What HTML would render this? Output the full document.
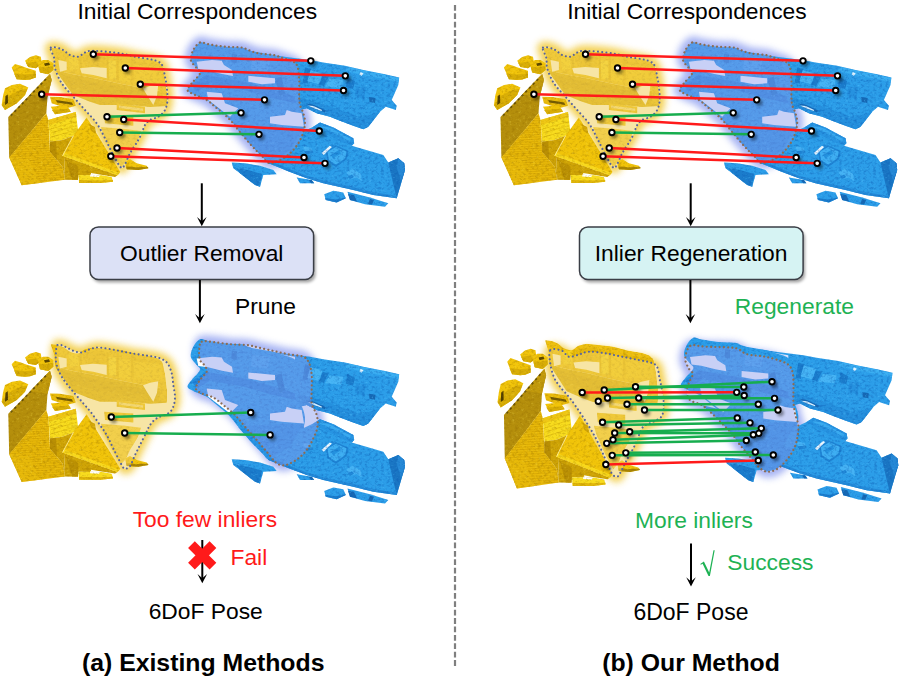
<!DOCTYPE html>
<html><head><meta charset="utf-8"><title>Figure</title>
<style>
html,body{margin:0;padding:0;background:#fff;}
body{width:900px;height:680px;overflow:hidden;font-family:"Liberation Sans",sans-serif;}
svg{display:block;}
</style></head><body>
<svg width="900" height="680" viewBox="0 0 900 680">
<defs>
<filter id="glow" x="-30%" y="-30%" width="160%" height="160%"><feGaussianBlur stdDeviation="3.8"/></filter>
<filter id="sblur" x="-100%" y="-100%" width="300%" height="300%"><feGaussianBlur stdDeviation="1.7"/></filter>
<filter id="bshadow" x="-10%" y="-20%" width="120%" height="150%"><feGaussianBlur stdDeviation="1.6"/></filter>
<filter id="soft" x="-5%" y="-5%" width="110%" height="110%"><feGaussianBlur stdDeviation="0.45"/></filter>
<filter id="texy" x="-3%" y="-3%" width="106%" height="106%" color-interpolation-filters="sRGB">
<feGaussianBlur in="SourceGraphic" stdDeviation="0.45" result="g"/>
<feTurbulence type="fractalNoise" baseFrequency="0.3 0.42" numOctaves="3" seed="7" result="n"/>
<feColorMatrix in="n" type="matrix" values="0 0 0 0 0.55  0 0 0 0 0.4  0 0 0 0 0  0.95 0 0 0 -0.45" result="d"/>
<feColorMatrix in="n" type="matrix" values="0 0 0 0 1  0 0 0 0 0.93  0 0 0 0 0.35  0 -0.95 0 0 0.38" result="l"/>
<feComposite in="d" in2="g" operator="in" result="dd"/>
<feComposite in="l" in2="g" operator="in" result="ll"/>
<feMerge><feMergeNode in="g"/><feMergeNode in="dd"/><feMergeNode in="ll"/></feMerge>
</filter>
<filter id="texb" x="-3%" y="-3%" width="106%" height="106%" color-interpolation-filters="sRGB">
<feGaussianBlur in="SourceGraphic" stdDeviation="0.45" result="g"/>
<feTurbulence type="fractalNoise" baseFrequency="0.32 0.4" numOctaves="3" seed="11" result="n"/>
<feColorMatrix in="n" type="matrix" values="0 0 0 0 0.05  0 0 0 0 0.36  0 0 0 0 0.7  1.2 0 0 0 -0.56" result="d"/>
<feColorMatrix in="n" type="matrix" values="0 0 0 0 0.36  0 0 0 0 0.78  0 0 0 0 1  0 -1.2 0 0 0.47" result="l"/>
<feComposite in="d" in2="g" operator="in" result="dd"/>
<feComposite in="l" in2="g" operator="in" result="ll"/>
<feMerge><feMergeNode in="g"/><feMergeNode in="dd"/><feMergeNode in="ll"/></feMerge>
</filter>
<clipPath id="stripeclip"><polygon points="46.3,113.3 9.2,157.5 21.7,185.3 65,179.7 62.5,166.7 50,151.7 49.2,133.3 48.3,120"/></clipPath>

<clipPath id="yclip0"><path d="M50.8,47.5C52.0,46.0 58.5,48.0 61.7,49.2C64.9,50.5 67.2,53.8 70.0,55.0C72.8,56.2 75.8,57.1 78.3,56.7C80.8,56.3 82.5,53.5 85.0,52.5C87.5,51.5 87.5,50.7 93.3,50.8C99.1,50.9 113.0,52.3 120.0,53.3C127.0,54.3 130.0,55.7 135.0,56.7C140.0,57.7 146.1,58.4 150.0,59.2C153.9,60.0 156.2,60.6 158.3,61.7C160.4,62.8 161.4,63.3 162.5,65.8C163.6,68.3 164.3,73.2 165.0,76.7C165.7,80.2 166.3,82.8 166.7,86.7C167.1,90.6 167.8,96.1 167.5,100.0C167.2,103.9 166.5,107.2 165.0,110.0C163.5,112.8 160.8,115.0 158.3,116.7C155.8,118.4 152.2,118.6 150.0,120.0C147.8,121.4 146.4,122.8 145.0,125.0C143.6,127.2 142.8,130.8 141.7,133.3C140.6,135.8 140.2,136.7 138.3,140.0C136.4,143.3 132.2,149.3 130.0,153.3C127.8,157.3 126.5,161.8 125.0,164.2C123.5,166.6 123.0,169.0 121.0,167.5C119.0,166.0 116.0,159.9 113.3,155.0C110.6,150.1 107.8,143.6 105.0,138.3C102.2,133.0 100.0,128.0 96.7,123.3C93.4,118.6 88.9,114.4 85.0,110.0C81.1,105.6 77.2,101.2 73.3,96.7C69.4,92.2 64.8,88.0 61.7,83.3C58.7,78.6 56.2,72.5 55.0,68.3C53.8,64.1 54.9,61.8 54.2,58.3C53.5,54.8 49.5,49.0 50.8,47.5Z"/></clipPath>
<g id="ycloud"><g filter="url(#texy)"><polygon points="25.0,60.8 30.0,57.0 35.8,55.3 40.8,56.7 41.7,62.5 39.0,66.0 35.8,68.3 28.3,67.0" fill="#f1c40a" />
<polygon points="26.0,63.0 33.0,62.0 41.5,61.5 41.7,62.5 39.0,66.0 35.8,68.3 28.3,67.0" fill="#d9ae06" />
<polygon points="37.5,62.5 43.0,60.0 48.3,60.0 53.3,63.3 53.3,70.0 48.3,74.2 40.0,72.5" fill="#f1c40a" />
<polygon points="38.5,67.0 46.0,67.5 53.3,66.0 53.3,70.0 48.3,74.2 40.0,72.5" fill="#d9ae06" />
<polygon points="44.0,63.5 49.0,62.5 50.0,65.0 45.0,66.0" fill="#5a4600" />
<polygon points="11.7,67.5 15.0,64.0 20.8,65.8 27.0,68.0 35.8,70.8 35.8,77.5 30.0,79.5 25.0,80.0 16.7,79.2" fill="#f1c40a" />
<polygon points="14.0,73.5 24.0,74.5 35.8,73.5 35.8,77.5 30.0,79.5 25.0,80.0 16.7,79.2" fill="#d9ae06" />
<polygon points="5.0,88.3 12.0,85.0 20.0,83.7 28.3,87.5 25.0,95.0 16.7,103.3 5.0,110.0 1.7,105.0 3.0,96.0" fill="#f1c40a" />
<polygon points="9.0,96.0 20.0,90.0 27.0,89.0 25.0,95.0 16.7,103.3 5.0,110.0 1.7,105.0" fill="#d9ae06" />
<polygon points="5.5,96.0 7.8,94.5 8.0,103.0 5.0,105.0" fill="#4e3c00" />
<polygon points="50.0,74.0 8.3,117.0 9.2,158.0 46.3,113.3 47.5,97.0 51.7,80.0" fill="#b58f0c" />
<polygon points="50.0,74.0 30.0,94.5 47.5,97.0 51.7,80.0" fill="#c29a0c" />
<path d="M46,79 L10,116.5" stroke="#2e2400" stroke-width="1.7" stroke-dasharray="2.4 3" fill="none" opacity="0.6"/>
<polygon points="46.3,113.3 9.2,157.5 21.7,185.3 65.0,179.7 62.5,166.7 50.0,151.7 49.2,133.3 48.3,120.0" fill="#e9ba0a" />
<g clip-path="url(#stripeclip)" stroke="#c99b00" stroke-width="0.8" opacity="0.55"><line x1="5" y1="118.0" x2="70" y2="115.0"/><line x1="5" y1="120.3" x2="70" y2="117.3"/><line x1="5" y1="122.6" x2="70" y2="119.6"/><line x1="5" y1="124.9" x2="70" y2="121.9"/><line x1="5" y1="127.2" x2="70" y2="124.2"/><line x1="5" y1="129.5" x2="70" y2="126.5"/><line x1="5" y1="131.8" x2="70" y2="128.8"/><line x1="5" y1="134.1" x2="70" y2="131.1"/><line x1="5" y1="136.4" x2="70" y2="133.4"/><line x1="5" y1="138.7" x2="70" y2="135.7"/><line x1="5" y1="141.0" x2="70" y2="138.0"/><line x1="5" y1="143.3" x2="70" y2="140.3"/><line x1="5" y1="145.6" x2="70" y2="142.6"/><line x1="5" y1="147.9" x2="70" y2="144.9"/><line x1="5" y1="150.2" x2="70" y2="147.2"/><line x1="5" y1="152.5" x2="70" y2="149.5"/><line x1="5" y1="154.8" x2="70" y2="151.8"/><line x1="5" y1="157.1" x2="70" y2="154.1"/><line x1="5" y1="159.4" x2="70" y2="156.4"/><line x1="5" y1="161.7" x2="70" y2="158.7"/><line x1="5" y1="164.0" x2="70" y2="161.0"/><line x1="5" y1="166.3" x2="70" y2="163.3"/><line x1="5" y1="168.6" x2="70" y2="165.6"/><line x1="5" y1="170.9" x2="70" y2="167.9"/><line x1="5" y1="173.2" x2="70" y2="170.2"/><line x1="5" y1="175.5" x2="70" y2="172.5"/><line x1="5" y1="177.8" x2="70" y2="174.8"/><line x1="5" y1="180.1" x2="70" y2="177.1"/><line x1="5" y1="182.39999999999998" x2="70" y2="179.39999999999998"/><line x1="5" y1="184.7" x2="70" y2="181.7"/></g>
<polygon points="9.2,157.5 21.7,185.3 40.0,183.0 30.0,160.0" fill="#e9bc0c" opacity="0.6"/>
<polygon points="48.3,120.0 75.8,112.0 78.3,132.5 73.3,135.8 62.5,140.0 50.0,141.7" fill="#f8dc1e" />
<polygon points="48.3,120.0 75.8,112.0 76.3,117.0 48.7,125.0" fill="#eec614" />
<g stroke="#e2be10" stroke-width="0.9" opacity="0.8"><line x1="50.5" y1="129" x2="76.5" y2="121.5"/><line x1="51" y1="133" x2="77" y2="125.5"/><line x1="51.5" y1="137" x2="77.5" y2="129.5"/></g>
<polygon points="50.0,141.7 62.5,140.0 73.3,135.8 64.2,155.8 65.0,179.7 62.5,166.7 50.0,151.7" fill="#cfa406" />
<polygon points="50.0,141.7 56.0,141.0 57.0,160.0 50.0,151.7" fill="#b98f04" />
<polygon points="62.5,155.8 117.5,175.3 115.0,176.9 100.0,174.6 91.0,173.0 91.0,175.2 78.3,175.0 78.0,180.0 65.0,179.7 64.2,158.3" fill="#cfa406" />
<polygon points="66.0,160.0 78.3,166.7 78.0,179.7 72.0,179.7" fill="#ba9004" />
<polygon points="86.7,117.5 120.3,172.0 117.5,175.3 62.5,155.8 73.3,135.8" fill="#f1c40a" />
<polygon points="62.5,155.8 117.5,175.3 119.5,173.0 64.0,152.8" fill="#f8d81c" />
<polygon points="89.0,124.0 95.0,127.0 96.0,134.0 91.0,131.0" fill="#d4a808" />
<line x1="73.3" y1="135.8" x2="62.5" y2="155.8" stroke="#fff3b0" stroke-width="0.8"/>
<polygon points="78.3,175.0 101.7,175.3 111.7,177.0 113.0,181.7 100.0,183.0 79.2,183.0" fill="#f8dc1e" />
<polygon points="79.0,180.0 100.0,180.5 113.0,180.0 113.0,181.7 100.0,183.0 79.2,183.0" fill="#e0b60a" />
<polygon points="90.0,174.5 100.0,175.5 99.0,177.0 90.0,176.5" fill="#fff" />
<polygon points="125.0,161.7 130.0,159.2 136.7,163.3 146.7,165.8 148.3,168.3 138.3,170.0 126.7,169.2" fill="#f1c40a" />
<polygon points="126.0,166.5 138.0,167.3 148.0,167.0 148.3,168.3 138.3,170.0 126.7,169.2" fill="#a88404" />
<polygon points="50.0,96.7 60.0,97.0 73.3,99.2 75.8,105.8 66.7,108.3 51.7,103.3" fill="#e9ba0a" />
<polygon points="56.0,100.0 72.0,102.5 73.0,105.0 57.0,102.5" fill="#3e3000" opacity="0.7"/>
<polygon points="50.8,106.7 66.7,105.3 70.8,111.7 55.0,114.2" fill="#f1c40a" />
<polygon points="52.0,110.0 69.0,108.8 70.8,111.7 55.0,114.2" fill="#d9ae06" /><g clip-path="url(#yclip0)"><polygon points="55.0,70.0 71.7,74.0 93.3,78.0 116.7,83.0 136.7,87.0 167.0,92.0 167.0,106.0 150.0,107.0 130.0,105.0 113.3,105.0 100.0,105.0 90.0,101.7 73.0,95.0" fill="#d9ad08" />
<polygon points="50.8,47.5 57.5,48.3 71.7,53.3 78.3,55.8 85.0,52.5 93.3,50.8 120.0,53.3 135.0,56.7 150.0,59.2 158.3,61.7 162.5,65.8 165.0,76.7 166.5,92.0 136.7,87.0 116.7,83.0 93.3,78.0 71.7,74.0 55.0,70.0 54.2,58.3" fill="#eec010" />
<polygon points="79.5,56.0 81.7,56.0 82.1,80.0 79.9,80.0" fill="#d4a800" opacity="0.55"/>
<polygon points="106.5,56.0 108.7,56.0 109.1,80.0 106.9,80.0" fill="#d4a800" opacity="0.55"/>
<polygon points="116.5,56.0 118.7,56.0 119.1,80.0 116.9,80.0" fill="#d4a800" opacity="0.55"/>
<polygon points="131.0,56.0 133.2,56.0 133.6,80.0 131.4,80.0" fill="#d4a800" opacity="0.55"/>
<polygon points="83.0,57.0 105.0,55.5 105.5,60.0 83.5,61.5" fill="#d4a800" opacity="0.5"/>
<polygon points="134.0,62.0 162.0,64.0 162.5,68.0 134.0,66.0" fill="#d4a800" opacity="0.35"/>
<polygon points="160.0,84.0 166.0,85.0 166.5,104.0 159.0,104.0" fill="#e8bc10" />
<polygon points="68.3,56.6 78.0,57.5 79.0,69.0 70.0,70.0" fill="#f6d21a" />
<polygon points="108.5,60.5 116.0,61.0 116.0,79.5 109.0,78.5" fill="#f8d820" />
<polygon points="118.5,62.0 130.5,63.3 130.5,82.5 119.0,81.0" fill="#f4cc14" />
<polygon points="133.5,64.5 161.0,67.0 162.5,82.0 134.0,82.5" fill="#f2c812" />
<polygon points="84.0,55.5 104.0,54.0 105.0,66.5 85.0,67.5" fill="#e6b80c" />
<polygon points="62.0,76.0 93.3,82.0 116.7,87.0 136.7,91.0 160.0,95.0 160.0,101.0 136.0,98.5 113.0,96.0 90.0,92.0 70.0,86.0" fill="#cfa306" opacity="0.7"/>
<polygon points="116.7,103.3 145.0,106.7 145.0,113.3 116.7,110.0" fill="#eec010" />
<polygon points="119.0,105.5 143.0,108.5 143.0,111.0 119.0,108.0" fill="#fff" opacity="0.55"/>
<polygon points="104.2,115.0 133.3,116.7 133.3,125.8 105.0,123.3" fill="#eec010" />
<polygon points="101.0,127.0 125.0,129.0 141.0,131.0 138.0,140.0 128.0,160.0 121.0,167.5 112.0,153.0 105.0,140.0" fill="#f3cf38" /></g></g><g clip-path="url(#yclip0)" filter="url(#soft)"><polygon points="58.3,60.0 66.7,61.7 66.7,70.0 60.0,71.7" fill="#fff" />
<polygon points="80.0,68.3 93.0,67.0 106.7,68.0 106.7,78.3 93.3,75.0 81.7,73.3" fill="#fff" />
<polygon points="143.0,88.5 150.0,86.0 158.3,84.5 157.0,96.0 153.3,105.0 147.5,96.0" fill="#fff" /></g></g>
<g id="bcloud"><g filter="url(#texb)"><path d="M200.0,42.5C202.5,41.5 204.1,43.5 208.3,44.2C212.5,44.9 219.4,46.2 225.0,46.7C230.6,47.2 237.8,47.0 241.7,47.5C245.6,48.0 245.5,49.0 248.3,50.0C251.1,51.0 254.1,52.5 258.3,53.3C262.5,54.1 269.1,54.2 273.3,55.0C277.5,55.8 280.0,57.2 283.3,58.3C286.6,59.4 290.9,60.3 293.3,61.7C295.7,63.1 296.5,63.7 297.5,66.7C298.5,69.8 298.9,75.0 299.2,80.0C299.5,85.0 299.1,92.5 299.2,96.7C299.3,100.9 299.3,102.2 300.0,105.0C300.7,107.8 302.5,110.5 303.3,113.3C304.1,116.1 305.0,118.9 305.0,122.0C305.0,125.1 304.4,128.4 303.3,132.0C302.2,135.6 300.5,139.8 298.3,143.3C296.1,146.9 293.1,150.5 290.0,153.3C286.9,156.1 283.5,158.4 280.0,160.0C276.5,161.6 272.1,163.7 269.0,163.0C265.9,162.3 264.6,158.7 261.7,155.8C258.8,152.9 255.6,150.1 251.7,145.8C247.8,141.5 241.6,134.0 238.3,130.0C235.0,126.0 233.9,124.2 231.7,121.7C229.5,119.2 227.8,117.5 225.0,115.0C222.2,112.5 218.1,109.2 215.0,106.7C211.9,104.2 210.3,102.1 206.7,100.0C203.1,97.9 196.5,95.9 193.3,94.2C190.1,92.5 187.8,91.8 187.5,90.0C187.2,88.2 189.6,86.1 191.7,83.3C193.8,80.5 199.2,75.8 200.0,73.3C200.8,70.8 198.2,70.5 196.7,68.3C195.2,66.1 191.4,63.0 190.8,60.0C190.2,57.0 191.8,52.9 193.3,50.0C194.8,47.1 197.5,43.5 200.0,42.5Z" fill="#2c9ee9"/>
<polygon points="192.0,84.0 206.0,75.0 245.0,82.0 275.0,90.0 299.0,98.0 299.0,104.0 272.0,98.0 244.0,90.0 210.0,84.0 196.0,92.0" fill="#2388dc" />
<polygon points="231.7,54.0 236.7,54.5 236.7,63.3 231.7,62.5" fill="#1b7ccc" />
<polygon points="275.0,78.3 281.7,76.7 285.0,93.3 280.0,96.7" fill="#1b7ccc" />
<polygon points="252.0,58.0 270.0,60.0 268.0,72.0 251.0,70.0" fill="#3aa8f0" />
<polygon points="238.0,130.0 262.0,128.0 304.0,127.0 304.0,135.0 298.3,143.3 290.0,153.3 280.0,160.0 269.0,163.5 251.7,145.8" fill="#2893e3" /></g><g filter="url(#soft)"><polygon points="196.7,61.7 212.0,60.0 221.7,60.8 224.0,65.0 232.0,70.0 233.0,76.0 222.0,74.0 208.0,70.5 198.3,69.2" fill="#fff" />
<polygon points="248.3,75.8 275.0,78.3 275.0,83.3 261.7,84.2 248.3,81.7" fill="#fff" />
<polygon points="206.7,91.7 221.7,93.3 225.0,103.3 238.3,108.3 230.0,116.7 208.3,100.0" fill="#fff" />
<polygon points="270.0,116.7 285.0,115.0 286.7,110.0 291.7,111.7 301.7,113.3 304.0,126.7 281.7,125.0 270.0,123.3" fill="#fff" /></g><g filter="url(#texb)"><polygon points="197.0,44.0 225.0,47.0 250.0,51.0 275.0,55.5 290.0,57.5 310.0,60.0 323.3,62.5 345.0,65.8 363.3,70.0 385.0,74.2 399.2,77.5 398.3,85.0 391.7,100.0 396.7,105.8 395.8,110.0 385.8,106.7 380.0,111.7 368.3,126.7 363.3,129.2 353.3,125.8 340.0,120.8 330.0,116.7 316.7,113.3 306.7,108.3 300.0,110.0 295.0,100.0 295.0,60.0" fill="#2c9ee9" />
<polygon points="298.0,97.0 316.0,102.0 340.0,110.0 362.0,117.5 380.0,111.7 368.3,126.7 363.3,129.2 353.3,125.8 340.0,120.8 330.0,116.7 316.7,113.3 306.7,108.3 300.0,110.0" fill="#2590de" />
<polygon points="305.0,67.5 311.3,68.8 307.5,83.8 302.5,82.5" fill="#1b7ccc" />
<polygon points="322.5,75.0 328.8,76.9 323.8,86.0 319.0,84.5" fill="#1b7ccc" />
<polygon points="310.5,70.0 322.5,73.8 319.0,84.0 307.3,81.3" fill="#46b4f5" />
<polygon points="329.5,78.8 343.5,80.0 341.3,88.0 325.0,86.6" fill="#46b4f5" />
<polygon points="347.0,77.0 355.0,81.0 353.0,89.0 346.0,87.0" fill="#1b7ccc" />
<polygon points="346.0,66.5 364.0,70.5 385.0,74.8 399.0,78.0 398.6,82.0 384.0,79.0 363.0,75.0 346.0,71.0" fill="#3aaef2" />
<polygon points="369.0,97.0 375.5,98.0 375.0,103.0 369.5,102.0" fill="#1668b4" />
<polygon points="356.0,86.0 366.0,88.0 364.0,99.0 355.0,96.0" fill="#2692e0" />
<polygon points="306.0,103.5 313.0,104.5 326.0,110.5 325.0,112.5 312.0,108.0" fill="#1668b4" />
<polygon points="308.0,105.5 313.5,106.0 322.0,110.0 321.5,111.0 312.5,107.7" fill="#d8f0ff" />
<polygon points="360.5,72.0 363.5,73.5 361.5,76.0 359.5,74.5" fill="#e4f4ff" />
<polygon points="300.0,133.0 313.3,126.7 320.0,122.5 333.3,127.5 353.3,138.3 354.2,143.3 351.7,145.8 383.3,155.0 388.3,162.5 398.3,158.3 404.2,163.3 405.0,170.0 396.7,198.3 373.3,195.0 353.3,190.0 323.3,183.3 306.7,178.3 290.0,172.0 268.0,163.0 290.0,150.0" fill="#2c9ee9" />
<polygon points="313.3,126.7 320.0,122.5 333.3,127.5 353.3,138.3 354.2,143.3 351.7,145.8 340.0,141.0 324.0,133.0" fill="#2794e2" />
<polygon points="321.0,124.5 333.0,129.0 351.0,139.0 350.0,141.5 332.0,132.0 320.0,127.0" fill="#39aaf0" />
<polygon points="388.3,162.5 398.3,158.3 404.2,163.3 405.0,170.0 396.7,198.3 393.0,183.0" fill="#1a76c4" />
<polygon points="398.3,158.3 404.2,163.3 405.0,170.0 401.0,181.0 397.0,168.0" fill="#2588d6" />
<polygon points="268.0,163.0 290.0,172.0 306.7,178.3 323.3,183.3 353.3,190.0 373.3,195.0 396.7,198.3 397.3,196.0 374.0,192.3 354.0,187.3 324.0,180.8 307.0,175.8 291.0,169.5 270.0,161.0" fill="#2389d8" />
<polygon points="325.5,151.5 336.0,145.3 348.6,151.0 346.6,159.6 336.0,167.0 327.4,161.6" fill="#1f84d4" />
<polygon points="327.5,152.0 336.0,147.0 346.5,151.6 345.0,158.5 336.0,164.6 329.0,160.5" fill="#3eaef2" />
<polygon points="331.0,155.0 339.0,150.0 341.0,153.5 333.0,158.5" fill="#2390de" />
<polygon points="321.6,153.0 329.8,145.8 331.9,146.9 323.7,155.1" fill="#f2f9ff" />
<polygon points="346.3,172.6 352.4,169.0 360.7,173.6 361.9,181.0 356.6,177.4 350.4,179.0" fill="#45b2f4" />
<polygon points="348.0,176.5 352.0,174.5 354.0,177.0 350.4,179.0" fill="#2088d8" />
<polygon points="303.1,145.8 311.3,147.9 313.4,153.0 306.2,154.6" fill="#43b0f3" />
<polygon points="304.0,151.0 312.0,150.5 313.4,153.0 306.2,154.6" fill="#1f84d4" />
<polygon points="231.7,162.5 245.0,163.3 260.0,165.8 273.3,170.0 276.7,174.2 263.3,175.0 260.0,186.7 255.0,185.0 240.0,173.3 233.3,168.3" fill="#2c9ee9" />
<polygon points="236.0,168.0 248.0,170.0 262.0,174.0 260.0,186.7 255.0,185.0 240.0,173.3" fill="#1b7ccc" />
<polygon points="296.7,177.5 311.7,180.0 314.2,183.3 300.0,183.3" fill="#2c9ee9" />
<polygon points="309.0,180.0 311.7,180.0 314.2,183.3 311.0,183.3" fill="#1668b4" />
<polygon points="324.2,194.2 333.3,190.8 343.3,192.5 345.8,198.3 336.7,202.5 325.8,200.0" fill="#2c9ee9" />
<polygon points="325.0,198.0 336.0,199.5 345.5,197.5 345.8,198.3 336.7,202.5 325.8,200.0" fill="#1b7ccc" />
<polygon points="347.5,191.7 370.0,197.5 388.3,203.3 385.0,206.7 365.0,204.2 350.0,200.0" fill="#2c9ee9" />
<polygon points="348.0,194.0 354.0,195.0 357.0,201.5 350.0,200.0" fill="#1668b4" />
<polygon points="370.0,199.0 374.0,200.0 372.0,204.5 368.0,204.0" fill="#1668b4" /></g></g>
</defs>
<g transform="translate(0,0)">
<path d="M50.8,47.5C52.0,46.0 58.5,48.0 61.7,49.2C64.9,50.5 67.2,53.8 70.0,55.0C72.8,56.2 75.8,57.1 78.3,56.7C80.8,56.3 82.5,53.5 85.0,52.5C87.5,51.5 87.5,50.7 93.3,50.8C99.1,50.9 113.0,52.3 120.0,53.3C127.0,54.3 130.0,55.7 135.0,56.7C140.0,57.7 146.1,58.4 150.0,59.2C153.9,60.0 156.2,60.6 158.3,61.7C160.4,62.8 161.4,63.3 162.5,65.8C163.6,68.3 164.3,73.2 165.0,76.7C165.7,80.2 166.3,82.8 166.7,86.7C167.1,90.6 167.8,96.1 167.5,100.0C167.2,103.9 166.5,107.2 165.0,110.0C163.5,112.8 160.8,115.0 158.3,116.7C155.8,118.4 152.2,118.6 150.0,120.0C147.8,121.4 146.4,122.8 145.0,125.0C143.6,127.2 142.8,130.8 141.7,133.3C140.6,135.8 140.2,136.7 138.3,140.0C136.4,143.3 132.2,149.3 130.0,153.3C127.8,157.3 126.5,161.8 125.0,164.2C123.5,166.6 123.0,169.0 121.0,167.5C119.0,166.0 116.0,159.9 113.3,155.0C110.6,150.1 107.8,143.6 105.0,138.3C102.2,133.0 100.0,128.0 96.7,123.3C93.4,118.6 88.9,114.4 85.0,110.0C81.1,105.6 77.2,101.2 73.3,96.7C69.4,92.2 64.8,88.0 61.7,83.3C58.7,78.6 56.2,72.5 55.0,68.3C53.8,64.1 54.9,61.8 54.2,58.3C53.5,54.8 49.5,49.0 50.8,47.5Z" fill="#f3cf4c" stroke="#f3cf4c" stroke-width="11" stroke-linejoin="round" opacity="0.95" filter="url(#glow)"/>
<path d="M200.0,42.5C202.5,41.5 204.1,43.5 208.3,44.2C212.5,44.9 219.4,46.2 225.0,46.7C230.6,47.2 237.8,47.0 241.7,47.5C245.6,48.0 245.5,49.0 248.3,50.0C251.1,51.0 254.1,52.5 258.3,53.3C262.5,54.1 269.1,54.2 273.3,55.0C277.5,55.8 280.0,57.2 283.3,58.3C286.6,59.4 290.9,60.3 293.3,61.7C295.7,63.1 296.5,63.7 297.5,66.7C298.5,69.8 298.9,75.0 299.2,80.0C299.5,85.0 299.1,92.5 299.2,96.7C299.3,100.9 299.3,102.2 300.0,105.0C300.7,107.8 302.5,110.5 303.3,113.3C304.1,116.1 305.0,118.9 305.0,122.0C305.0,125.1 304.4,128.4 303.3,132.0C302.2,135.6 300.5,139.8 298.3,143.3C296.1,146.9 293.1,150.5 290.0,153.3C286.9,156.1 283.5,158.4 280.0,160.0C276.5,161.6 272.1,163.7 269.0,163.0C265.9,162.3 264.6,158.7 261.7,155.8C258.8,152.9 255.6,150.1 251.7,145.8C247.8,141.5 241.6,134.0 238.3,130.0C235.0,126.0 233.9,124.2 231.7,121.7C229.5,119.2 227.8,117.5 225.0,115.0C222.2,112.5 218.1,109.2 215.0,106.7C211.9,104.2 210.3,102.1 206.7,100.0C203.1,97.9 196.5,95.9 193.3,94.2C190.1,92.5 187.8,91.8 187.5,90.0C187.2,88.2 189.6,86.1 191.7,83.3C193.8,80.5 199.2,75.8 200.0,73.3C200.8,70.8 198.2,70.5 196.7,68.3C195.2,66.1 191.4,63.0 190.8,60.0C190.2,57.0 191.8,52.9 193.3,50.0C194.8,47.1 197.5,43.5 200.0,42.5Z" fill="#8496ef" stroke="#8496ef" stroke-width="12" stroke-linejoin="round" opacity="0.72" filter="url(#glow)"/>
<path d="M50.8,47.5C52.0,46.0 58.5,48.0 61.7,49.2C64.9,50.5 67.2,53.8 70.0,55.0C72.8,56.2 75.8,57.1 78.3,56.7C80.8,56.3 82.5,53.5 85.0,52.5C87.5,51.5 87.5,50.7 93.3,50.8C99.1,50.9 113.0,52.3 120.0,53.3C127.0,54.3 130.0,55.7 135.0,56.7C140.0,57.7 146.1,58.4 150.0,59.2C153.9,60.0 156.2,60.6 158.3,61.7C160.4,62.8 161.4,63.3 162.5,65.8C163.6,68.3 164.3,73.2 165.0,76.7C165.7,80.2 166.3,82.8 166.7,86.7C167.1,90.6 167.8,96.1 167.5,100.0C167.2,103.9 166.5,107.2 165.0,110.0C163.5,112.8 160.8,115.0 158.3,116.7C155.8,118.4 152.2,118.6 150.0,120.0C147.8,121.4 146.4,122.8 145.0,125.0C143.6,127.2 142.8,130.8 141.7,133.3C140.6,135.8 140.2,136.7 138.3,140.0C136.4,143.3 132.2,149.3 130.0,153.3C127.8,157.3 126.5,161.8 125.0,164.2C123.5,166.6 123.0,169.0 121.0,167.5C119.0,166.0 116.0,159.9 113.3,155.0C110.6,150.1 107.8,143.6 105.0,138.3C102.2,133.0 100.0,128.0 96.7,123.3C93.4,118.6 88.9,114.4 85.0,110.0C81.1,105.6 77.2,101.2 73.3,96.7C69.4,92.2 64.8,88.0 61.7,83.3C58.7,78.6 56.2,72.5 55.0,68.3C53.8,64.1 54.9,61.8 54.2,58.3C53.5,54.8 49.5,49.0 50.8,47.5Z" fill="#fff"/><path d="M200.0,42.5C202.5,41.5 204.1,43.5 208.3,44.2C212.5,44.9 219.4,46.2 225.0,46.7C230.6,47.2 237.8,47.0 241.7,47.5C245.6,48.0 245.5,49.0 248.3,50.0C251.1,51.0 254.1,52.5 258.3,53.3C262.5,54.1 269.1,54.2 273.3,55.0C277.5,55.8 280.0,57.2 283.3,58.3C286.6,59.4 290.9,60.3 293.3,61.7C295.7,63.1 296.5,63.7 297.5,66.7C298.5,69.8 298.9,75.0 299.2,80.0C299.5,85.0 299.1,92.5 299.2,96.7C299.3,100.9 299.3,102.2 300.0,105.0C300.7,107.8 302.5,110.5 303.3,113.3C304.1,116.1 305.0,118.9 305.0,122.0C305.0,125.1 304.4,128.4 303.3,132.0C302.2,135.6 300.5,139.8 298.3,143.3C296.1,146.9 293.1,150.5 290.0,153.3C286.9,156.1 283.5,158.4 280.0,160.0C276.5,161.6 272.1,163.7 269.0,163.0C265.9,162.3 264.6,158.7 261.7,155.8C258.8,152.9 255.6,150.1 251.7,145.8C247.8,141.5 241.6,134.0 238.3,130.0C235.0,126.0 233.9,124.2 231.7,121.7C229.5,119.2 227.8,117.5 225.0,115.0C222.2,112.5 218.1,109.2 215.0,106.7C211.9,104.2 210.3,102.1 206.7,100.0C203.1,97.9 196.5,95.9 193.3,94.2C190.1,92.5 187.8,91.8 187.5,90.0C187.2,88.2 189.6,86.1 191.7,83.3C193.8,80.5 199.2,75.8 200.0,73.3C200.8,70.8 198.2,70.5 196.7,68.3C195.2,66.1 191.4,63.0 190.8,60.0C190.2,57.0 191.8,52.9 193.3,50.0C194.8,47.1 197.5,43.5 200.0,42.5Z" fill="#fff"/>
<use href="#ycloud" transform=""/>
<use href="#bcloud" transform=""/>

<path d="M50.8,47.5C52.0,46.0 58.5,48.0 61.7,49.2C64.9,50.5 67.2,53.8 70.0,55.0C72.8,56.2 75.8,57.1 78.3,56.7C80.8,56.3 82.5,53.5 85.0,52.5C87.5,51.5 87.5,50.7 93.3,50.8C99.1,50.9 113.0,52.3 120.0,53.3C127.0,54.3 130.0,55.7 135.0,56.7C140.0,57.7 146.1,58.4 150.0,59.2C153.9,60.0 156.2,60.6 158.3,61.7C160.4,62.8 161.4,63.3 162.5,65.8C163.6,68.3 164.3,73.2 165.0,76.7C165.7,80.2 166.3,82.8 166.7,86.7C167.1,90.6 167.8,96.1 167.5,100.0C167.2,103.9 166.5,107.2 165.0,110.0C163.5,112.8 160.8,115.0 158.3,116.7C155.8,118.4 152.2,118.6 150.0,120.0C147.8,121.4 146.4,122.8 145.0,125.0C143.6,127.2 142.8,130.8 141.7,133.3C140.6,135.8 140.2,136.7 138.3,140.0C136.4,143.3 132.2,149.3 130.0,153.3C127.8,157.3 126.5,161.8 125.0,164.2C123.5,166.6 123.0,169.0 121.0,167.5C119.0,166.0 116.0,159.9 113.3,155.0C110.6,150.1 107.8,143.6 105.0,138.3C102.2,133.0 100.0,128.0 96.7,123.3C93.4,118.6 88.9,114.4 85.0,110.0C81.1,105.6 77.2,101.2 73.3,96.7C69.4,92.2 64.8,88.0 61.7,83.3C58.7,78.6 56.2,72.5 55.0,68.3C53.8,64.1 54.9,61.8 54.2,58.3C53.5,54.8 49.5,49.0 50.8,47.5Z" fill="rgb(240,208,91)" opacity="0.55"/>
<path d="M200.0,42.5C202.5,41.5 204.1,43.5 208.3,44.2C212.5,44.9 219.4,46.2 225.0,46.7C230.6,47.2 237.8,47.0 241.7,47.5C245.6,48.0 245.5,49.0 248.3,50.0C251.1,51.0 254.1,52.5 258.3,53.3C262.5,54.1 269.1,54.2 273.3,55.0C277.5,55.8 280.0,57.2 283.3,58.3C286.6,59.4 290.9,60.3 293.3,61.7C295.7,63.1 296.5,63.7 297.5,66.7C298.5,69.8 298.9,75.0 299.2,80.0C299.5,85.0 299.1,92.5 299.2,96.7C299.3,100.9 299.3,102.2 300.0,105.0C300.7,107.8 302.5,110.5 303.3,113.3C304.1,116.1 305.0,118.9 305.0,122.0C305.0,125.1 304.4,128.4 303.3,132.0C302.2,135.6 300.5,139.8 298.3,143.3C296.1,146.9 293.1,150.5 290.0,153.3C286.9,156.1 283.5,158.4 280.0,160.0C276.5,161.6 272.1,163.7 269.0,163.0C265.9,162.3 264.6,158.7 261.7,155.8C258.8,152.9 255.6,150.1 251.7,145.8C247.8,141.5 241.6,134.0 238.3,130.0C235.0,126.0 233.9,124.2 231.7,121.7C229.5,119.2 227.8,117.5 225.0,115.0C222.2,112.5 218.1,109.2 215.0,106.7C211.9,104.2 210.3,102.1 206.7,100.0C203.1,97.9 196.5,95.9 193.3,94.2C190.1,92.5 187.8,91.8 187.5,90.0C187.2,88.2 189.6,86.1 191.7,83.3C193.8,80.5 199.2,75.8 200.0,73.3C200.8,70.8 198.2,70.5 196.7,68.3C195.2,66.1 191.4,63.0 190.8,60.0C190.2,57.0 191.8,52.9 193.3,50.0C194.8,47.1 197.5,43.5 200.0,42.5Z" fill="rgb(135,152,235)" opacity="0.46"/>
<path d="M50.8,47.5C52.0,46.0 58.5,48.0 61.7,49.2C64.9,50.5 67.2,53.8 70.0,55.0C72.8,56.2 75.8,57.1 78.3,56.7C80.8,56.3 82.5,53.5 85.0,52.5C87.5,51.5 87.5,50.7 93.3,50.8C99.1,50.9 113.0,52.3 120.0,53.3C127.0,54.3 130.0,55.7 135.0,56.7C140.0,57.7 146.1,58.4 150.0,59.2C153.9,60.0 156.2,60.6 158.3,61.7C160.4,62.8 161.4,63.3 162.5,65.8C163.6,68.3 164.3,73.2 165.0,76.7C165.7,80.2 166.3,82.8 166.7,86.7C167.1,90.6 167.8,96.1 167.5,100.0C167.2,103.9 166.5,107.2 165.0,110.0C163.5,112.8 160.8,115.0 158.3,116.7C155.8,118.4 152.2,118.6 150.0,120.0C147.8,121.4 146.4,122.8 145.0,125.0C143.6,127.2 142.8,130.8 141.7,133.3C140.6,135.8 140.2,136.7 138.3,140.0C136.4,143.3 132.2,149.3 130.0,153.3C127.8,157.3 126.5,161.8 125.0,164.2C123.5,166.6 123.0,169.0 121.0,167.5C119.0,166.0 116.0,159.9 113.3,155.0C110.6,150.1 107.8,143.6 105.0,138.3C102.2,133.0 100.0,128.0 96.7,123.3C93.4,118.6 88.9,114.4 85.0,110.0C81.1,105.6 77.2,101.2 73.3,96.7C69.4,92.2 64.8,88.0 61.7,83.3C58.7,78.6 56.2,72.5 55.0,68.3C53.8,64.1 54.9,61.8 54.2,58.3C53.5,54.8 49.5,49.0 50.8,47.5Z" fill="none" stroke="#56639f" stroke-width="2.1" stroke-linecap="round" stroke-dasharray="0.01 4.2"/>
<path d="M200.0,42.5C202.5,41.5 204.1,43.5 208.3,44.2C212.5,44.9 219.4,46.2 225.0,46.7C230.6,47.2 237.8,47.0 241.7,47.5C245.6,48.0 245.5,49.0 248.3,50.0C251.1,51.0 254.1,52.5 258.3,53.3C262.5,54.1 269.1,54.2 273.3,55.0C277.5,55.8 280.0,57.2 283.3,58.3C286.6,59.4 290.9,60.3 293.3,61.7C295.7,63.1 296.5,63.7 297.5,66.7C298.5,69.8 298.9,75.0 299.2,80.0C299.5,85.0 299.1,92.5 299.2,96.7C299.3,100.9 299.3,102.2 300.0,105.0C300.7,107.8 302.5,110.5 303.3,113.3C304.1,116.1 305.0,118.9 305.0,122.0C305.0,125.1 304.4,128.4 303.3,132.0C302.2,135.6 300.5,139.8 298.3,143.3C296.1,146.9 293.1,150.5 290.0,153.3C286.9,156.1 283.5,158.4 280.0,160.0C276.5,161.6 272.1,163.7 269.0,163.0C265.9,162.3 264.6,158.7 261.7,155.8C258.8,152.9 255.6,150.1 251.7,145.8C247.8,141.5 241.6,134.0 238.3,130.0C235.0,126.0 233.9,124.2 231.7,121.7C229.5,119.2 227.8,117.5 225.0,115.0C222.2,112.5 218.1,109.2 215.0,106.7C211.9,104.2 210.3,102.1 206.7,100.0C203.1,97.9 196.5,95.9 193.3,94.2C190.1,92.5 187.8,91.8 187.5,90.0C187.2,88.2 189.6,86.1 191.7,83.3C193.8,80.5 199.2,75.8 200.0,73.3C200.8,70.8 198.2,70.5 196.7,68.3C195.2,66.1 191.4,63.0 190.8,60.0C190.2,57.0 191.8,52.9 193.3,50.0C194.8,47.1 197.5,43.5 200.0,42.5Z" fill="none" stroke="#8b6c55" stroke-width="2.2" stroke-linecap="round" stroke-dasharray="0.01 4.2"/>
<circle cx="95.7" cy="57.0" r="3.4" fill="#000" opacity="0.42" filter="url(#sblur)"/>
<circle cx="313.2" cy="63.6" r="3.4" fill="#000" opacity="0.42" filter="url(#sblur)"/>
<circle cx="127.7" cy="70.8" r="3.4" fill="#000" opacity="0.42" filter="url(#sblur)"/>
<circle cx="347.7" cy="78.6" r="3.4" fill="#000" opacity="0.42" filter="url(#sblur)"/>
<circle cx="142.7" cy="87.0" r="3.4" fill="#000" opacity="0.42" filter="url(#sblur)"/>
<circle cx="345.9" cy="93.3" r="3.4" fill="#000" opacity="0.42" filter="url(#sblur)"/>
<circle cx="44.1" cy="97.0" r="3.4" fill="#000" opacity="0.42" filter="url(#sblur)"/>
<circle cx="266.9" cy="102.6" r="3.4" fill="#000" opacity="0.42" filter="url(#sblur)"/>
<circle cx="109.4" cy="119.5" r="3.4" fill="#000" opacity="0.42" filter="url(#sblur)"/>
<circle cx="243.4" cy="115.6" r="3.4" fill="#000" opacity="0.42" filter="url(#sblur)"/>
<circle cx="126.1" cy="122.3" r="3.4" fill="#000" opacity="0.42" filter="url(#sblur)"/>
<circle cx="321.7" cy="133.8" r="3.4" fill="#000" opacity="0.42" filter="url(#sblur)"/>
<circle cx="122.1" cy="135.3" r="3.4" fill="#000" opacity="0.42" filter="url(#sblur)"/>
<circle cx="261.4" cy="137.1" r="3.4" fill="#000" opacity="0.42" filter="url(#sblur)"/>
<circle cx="119.4" cy="150.8" r="3.4" fill="#000" opacity="0.42" filter="url(#sblur)"/>
<circle cx="306.4" cy="160.3" r="3.4" fill="#000" opacity="0.42" filter="url(#sblur)"/>
<circle cx="113.2" cy="159.0" r="3.4" fill="#000" opacity="0.42" filter="url(#sblur)"/>
<circle cx="327.4" cy="166.1" r="3.4" fill="#000" opacity="0.42" filter="url(#sblur)"/>
<line x1="93.3" y1="54.2" x2="310.8" y2="60.8" stroke="#ff1a1a" stroke-width="2.5"/>
<line x1="125.3" y1="68.0" x2="345.3" y2="75.8" stroke="#ff1a1a" stroke-width="2.5"/>
<line x1="140.3" y1="84.2" x2="343.5" y2="90.5" stroke="#ff1a1a" stroke-width="2.5"/>
<line x1="41.7" y1="94.2" x2="264.5" y2="99.8" stroke="#ff1a1a" stroke-width="2.5"/>
<line x1="107.0" y1="116.7" x2="241.0" y2="112.8" stroke="#17ad4e" stroke-width="2.5"/>
<line x1="123.7" y1="119.5" x2="319.3" y2="131.0" stroke="#ff1a1a" stroke-width="2.5"/>
<line x1="119.7" y1="132.5" x2="259.0" y2="134.3" stroke="#17ad4e" stroke-width="2.5"/>
<line x1="117.0" y1="148.0" x2="304.0" y2="157.5" stroke="#ff1a1a" stroke-width="2.5"/>
<line x1="110.8" y1="156.2" x2="325.0" y2="163.3" stroke="#ff1a1a" stroke-width="2.5"/>
<circle cx="93.3" cy="54.2" r="2.75" fill="#fff" stroke="#000" stroke-width="1.85"/>
<circle cx="310.8" cy="60.8" r="2.75" fill="#fff" stroke="#000" stroke-width="1.85"/>
<circle cx="125.3" cy="68.0" r="2.75" fill="#fff" stroke="#000" stroke-width="1.85"/>
<circle cx="345.3" cy="75.8" r="2.75" fill="#fff" stroke="#000" stroke-width="1.85"/>
<circle cx="140.3" cy="84.2" r="2.75" fill="#fff" stroke="#000" stroke-width="1.85"/>
<circle cx="343.5" cy="90.5" r="2.75" fill="#fff" stroke="#000" stroke-width="1.85"/>
<circle cx="41.7" cy="94.2" r="2.75" fill="#fff" stroke="#000" stroke-width="1.85"/>
<circle cx="264.5" cy="99.8" r="2.75" fill="#fff" stroke="#000" stroke-width="1.85"/>
<circle cx="107.0" cy="116.7" r="2.75" fill="#fff" stroke="#000" stroke-width="1.85"/>
<circle cx="241.0" cy="112.8" r="2.75" fill="#fff" stroke="#000" stroke-width="1.85"/>
<circle cx="123.7" cy="119.5" r="2.75" fill="#fff" stroke="#000" stroke-width="1.85"/>
<circle cx="319.3" cy="131.0" r="2.75" fill="#fff" stroke="#000" stroke-width="1.85"/>
<circle cx="119.7" cy="132.5" r="2.75" fill="#fff" stroke="#000" stroke-width="1.85"/>
<circle cx="259.0" cy="134.3" r="2.75" fill="#fff" stroke="#000" stroke-width="1.85"/>
<circle cx="117.0" cy="148.0" r="2.75" fill="#fff" stroke="#000" stroke-width="1.85"/>
<circle cx="304.0" cy="157.5" r="2.75" fill="#fff" stroke="#000" stroke-width="1.85"/>
<circle cx="110.8" cy="156.2" r="2.75" fill="#fff" stroke="#000" stroke-width="1.85"/>
<circle cx="325.0" cy="163.3" r="2.75" fill="#fff" stroke="#000" stroke-width="1.85"/>
</g>
<g transform="translate(492.2,0)">
<path d="M50.8,47.5C52.0,46.0 58.5,48.0 61.7,49.2C64.9,50.5 67.2,53.8 70.0,55.0C72.8,56.2 75.8,57.1 78.3,56.7C80.8,56.3 82.5,53.5 85.0,52.5C87.5,51.5 87.5,50.7 93.3,50.8C99.1,50.9 113.0,52.3 120.0,53.3C127.0,54.3 130.0,55.7 135.0,56.7C140.0,57.7 146.1,58.4 150.0,59.2C153.9,60.0 156.2,60.6 158.3,61.7C160.4,62.8 161.4,63.3 162.5,65.8C163.6,68.3 164.3,73.2 165.0,76.7C165.7,80.2 166.3,82.8 166.7,86.7C167.1,90.6 167.8,96.1 167.5,100.0C167.2,103.9 166.5,107.2 165.0,110.0C163.5,112.8 160.8,115.0 158.3,116.7C155.8,118.4 152.2,118.6 150.0,120.0C147.8,121.4 146.4,122.8 145.0,125.0C143.6,127.2 142.8,130.8 141.7,133.3C140.6,135.8 140.2,136.7 138.3,140.0C136.4,143.3 132.2,149.3 130.0,153.3C127.8,157.3 126.5,161.8 125.0,164.2C123.5,166.6 123.0,169.0 121.0,167.5C119.0,166.0 116.0,159.9 113.3,155.0C110.6,150.1 107.8,143.6 105.0,138.3C102.2,133.0 100.0,128.0 96.7,123.3C93.4,118.6 88.9,114.4 85.0,110.0C81.1,105.6 77.2,101.2 73.3,96.7C69.4,92.2 64.8,88.0 61.7,83.3C58.7,78.6 56.2,72.5 55.0,68.3C53.8,64.1 54.9,61.8 54.2,58.3C53.5,54.8 49.5,49.0 50.8,47.5Z" fill="#f3cf4c" stroke="#f3cf4c" stroke-width="11" stroke-linejoin="round" opacity="0.95" filter="url(#glow)"/>
<path d="M200.0,42.5C202.5,41.5 204.1,43.5 208.3,44.2C212.5,44.9 219.4,46.2 225.0,46.7C230.6,47.2 237.8,47.0 241.7,47.5C245.6,48.0 245.5,49.0 248.3,50.0C251.1,51.0 254.1,52.5 258.3,53.3C262.5,54.1 269.1,54.2 273.3,55.0C277.5,55.8 280.0,57.2 283.3,58.3C286.6,59.4 290.9,60.3 293.3,61.7C295.7,63.1 296.5,63.7 297.5,66.7C298.5,69.8 298.9,75.0 299.2,80.0C299.5,85.0 299.1,92.5 299.2,96.7C299.3,100.9 299.3,102.2 300.0,105.0C300.7,107.8 302.5,110.5 303.3,113.3C304.1,116.1 305.0,118.9 305.0,122.0C305.0,125.1 304.4,128.4 303.3,132.0C302.2,135.6 300.5,139.8 298.3,143.3C296.1,146.9 293.1,150.5 290.0,153.3C286.9,156.1 283.5,158.4 280.0,160.0C276.5,161.6 272.1,163.7 269.0,163.0C265.9,162.3 264.6,158.7 261.7,155.8C258.8,152.9 255.6,150.1 251.7,145.8C247.8,141.5 241.6,134.0 238.3,130.0C235.0,126.0 233.9,124.2 231.7,121.7C229.5,119.2 227.8,117.5 225.0,115.0C222.2,112.5 218.1,109.2 215.0,106.7C211.9,104.2 210.3,102.1 206.7,100.0C203.1,97.9 196.5,95.9 193.3,94.2C190.1,92.5 187.8,91.8 187.5,90.0C187.2,88.2 189.6,86.1 191.7,83.3C193.8,80.5 199.2,75.8 200.0,73.3C200.8,70.8 198.2,70.5 196.7,68.3C195.2,66.1 191.4,63.0 190.8,60.0C190.2,57.0 191.8,52.9 193.3,50.0C194.8,47.1 197.5,43.5 200.0,42.5Z" fill="#8496ef" stroke="#8496ef" stroke-width="12" stroke-linejoin="round" opacity="0.72" filter="url(#glow)"/>
<path d="M50.8,47.5C52.0,46.0 58.5,48.0 61.7,49.2C64.9,50.5 67.2,53.8 70.0,55.0C72.8,56.2 75.8,57.1 78.3,56.7C80.8,56.3 82.5,53.5 85.0,52.5C87.5,51.5 87.5,50.7 93.3,50.8C99.1,50.9 113.0,52.3 120.0,53.3C127.0,54.3 130.0,55.7 135.0,56.7C140.0,57.7 146.1,58.4 150.0,59.2C153.9,60.0 156.2,60.6 158.3,61.7C160.4,62.8 161.4,63.3 162.5,65.8C163.6,68.3 164.3,73.2 165.0,76.7C165.7,80.2 166.3,82.8 166.7,86.7C167.1,90.6 167.8,96.1 167.5,100.0C167.2,103.9 166.5,107.2 165.0,110.0C163.5,112.8 160.8,115.0 158.3,116.7C155.8,118.4 152.2,118.6 150.0,120.0C147.8,121.4 146.4,122.8 145.0,125.0C143.6,127.2 142.8,130.8 141.7,133.3C140.6,135.8 140.2,136.7 138.3,140.0C136.4,143.3 132.2,149.3 130.0,153.3C127.8,157.3 126.5,161.8 125.0,164.2C123.5,166.6 123.0,169.0 121.0,167.5C119.0,166.0 116.0,159.9 113.3,155.0C110.6,150.1 107.8,143.6 105.0,138.3C102.2,133.0 100.0,128.0 96.7,123.3C93.4,118.6 88.9,114.4 85.0,110.0C81.1,105.6 77.2,101.2 73.3,96.7C69.4,92.2 64.8,88.0 61.7,83.3C58.7,78.6 56.2,72.5 55.0,68.3C53.8,64.1 54.9,61.8 54.2,58.3C53.5,54.8 49.5,49.0 50.8,47.5Z" fill="#fff"/><path d="M200.0,42.5C202.5,41.5 204.1,43.5 208.3,44.2C212.5,44.9 219.4,46.2 225.0,46.7C230.6,47.2 237.8,47.0 241.7,47.5C245.6,48.0 245.5,49.0 248.3,50.0C251.1,51.0 254.1,52.5 258.3,53.3C262.5,54.1 269.1,54.2 273.3,55.0C277.5,55.8 280.0,57.2 283.3,58.3C286.6,59.4 290.9,60.3 293.3,61.7C295.7,63.1 296.5,63.7 297.5,66.7C298.5,69.8 298.9,75.0 299.2,80.0C299.5,85.0 299.1,92.5 299.2,96.7C299.3,100.9 299.3,102.2 300.0,105.0C300.7,107.8 302.5,110.5 303.3,113.3C304.1,116.1 305.0,118.9 305.0,122.0C305.0,125.1 304.4,128.4 303.3,132.0C302.2,135.6 300.5,139.8 298.3,143.3C296.1,146.9 293.1,150.5 290.0,153.3C286.9,156.1 283.5,158.4 280.0,160.0C276.5,161.6 272.1,163.7 269.0,163.0C265.9,162.3 264.6,158.7 261.7,155.8C258.8,152.9 255.6,150.1 251.7,145.8C247.8,141.5 241.6,134.0 238.3,130.0C235.0,126.0 233.9,124.2 231.7,121.7C229.5,119.2 227.8,117.5 225.0,115.0C222.2,112.5 218.1,109.2 215.0,106.7C211.9,104.2 210.3,102.1 206.7,100.0C203.1,97.9 196.5,95.9 193.3,94.2C190.1,92.5 187.8,91.8 187.5,90.0C187.2,88.2 189.6,86.1 191.7,83.3C193.8,80.5 199.2,75.8 200.0,73.3C200.8,70.8 198.2,70.5 196.7,68.3C195.2,66.1 191.4,63.0 190.8,60.0C190.2,57.0 191.8,52.9 193.3,50.0C194.8,47.1 197.5,43.5 200.0,42.5Z" fill="#fff"/>
<use href="#ycloud" transform=""/>
<use href="#bcloud" transform=""/>

<path d="M50.8,47.5C52.0,46.0 58.5,48.0 61.7,49.2C64.9,50.5 67.2,53.8 70.0,55.0C72.8,56.2 75.8,57.1 78.3,56.7C80.8,56.3 82.5,53.5 85.0,52.5C87.5,51.5 87.5,50.7 93.3,50.8C99.1,50.9 113.0,52.3 120.0,53.3C127.0,54.3 130.0,55.7 135.0,56.7C140.0,57.7 146.1,58.4 150.0,59.2C153.9,60.0 156.2,60.6 158.3,61.7C160.4,62.8 161.4,63.3 162.5,65.8C163.6,68.3 164.3,73.2 165.0,76.7C165.7,80.2 166.3,82.8 166.7,86.7C167.1,90.6 167.8,96.1 167.5,100.0C167.2,103.9 166.5,107.2 165.0,110.0C163.5,112.8 160.8,115.0 158.3,116.7C155.8,118.4 152.2,118.6 150.0,120.0C147.8,121.4 146.4,122.8 145.0,125.0C143.6,127.2 142.8,130.8 141.7,133.3C140.6,135.8 140.2,136.7 138.3,140.0C136.4,143.3 132.2,149.3 130.0,153.3C127.8,157.3 126.5,161.8 125.0,164.2C123.5,166.6 123.0,169.0 121.0,167.5C119.0,166.0 116.0,159.9 113.3,155.0C110.6,150.1 107.8,143.6 105.0,138.3C102.2,133.0 100.0,128.0 96.7,123.3C93.4,118.6 88.9,114.4 85.0,110.0C81.1,105.6 77.2,101.2 73.3,96.7C69.4,92.2 64.8,88.0 61.7,83.3C58.7,78.6 56.2,72.5 55.0,68.3C53.8,64.1 54.9,61.8 54.2,58.3C53.5,54.8 49.5,49.0 50.8,47.5Z" fill="rgb(240,208,91)" opacity="0.55"/>
<path d="M200.0,42.5C202.5,41.5 204.1,43.5 208.3,44.2C212.5,44.9 219.4,46.2 225.0,46.7C230.6,47.2 237.8,47.0 241.7,47.5C245.6,48.0 245.5,49.0 248.3,50.0C251.1,51.0 254.1,52.5 258.3,53.3C262.5,54.1 269.1,54.2 273.3,55.0C277.5,55.8 280.0,57.2 283.3,58.3C286.6,59.4 290.9,60.3 293.3,61.7C295.7,63.1 296.5,63.7 297.5,66.7C298.5,69.8 298.9,75.0 299.2,80.0C299.5,85.0 299.1,92.5 299.2,96.7C299.3,100.9 299.3,102.2 300.0,105.0C300.7,107.8 302.5,110.5 303.3,113.3C304.1,116.1 305.0,118.9 305.0,122.0C305.0,125.1 304.4,128.4 303.3,132.0C302.2,135.6 300.5,139.8 298.3,143.3C296.1,146.9 293.1,150.5 290.0,153.3C286.9,156.1 283.5,158.4 280.0,160.0C276.5,161.6 272.1,163.7 269.0,163.0C265.9,162.3 264.6,158.7 261.7,155.8C258.8,152.9 255.6,150.1 251.7,145.8C247.8,141.5 241.6,134.0 238.3,130.0C235.0,126.0 233.9,124.2 231.7,121.7C229.5,119.2 227.8,117.5 225.0,115.0C222.2,112.5 218.1,109.2 215.0,106.7C211.9,104.2 210.3,102.1 206.7,100.0C203.1,97.9 196.5,95.9 193.3,94.2C190.1,92.5 187.8,91.8 187.5,90.0C187.2,88.2 189.6,86.1 191.7,83.3C193.8,80.5 199.2,75.8 200.0,73.3C200.8,70.8 198.2,70.5 196.7,68.3C195.2,66.1 191.4,63.0 190.8,60.0C190.2,57.0 191.8,52.9 193.3,50.0C194.8,47.1 197.5,43.5 200.0,42.5Z" fill="rgb(135,152,235)" opacity="0.46"/>
<path d="M50.8,47.5C52.0,46.0 58.5,48.0 61.7,49.2C64.9,50.5 67.2,53.8 70.0,55.0C72.8,56.2 75.8,57.1 78.3,56.7C80.8,56.3 82.5,53.5 85.0,52.5C87.5,51.5 87.5,50.7 93.3,50.8C99.1,50.9 113.0,52.3 120.0,53.3C127.0,54.3 130.0,55.7 135.0,56.7C140.0,57.7 146.1,58.4 150.0,59.2C153.9,60.0 156.2,60.6 158.3,61.7C160.4,62.8 161.4,63.3 162.5,65.8C163.6,68.3 164.3,73.2 165.0,76.7C165.7,80.2 166.3,82.8 166.7,86.7C167.1,90.6 167.8,96.1 167.5,100.0C167.2,103.9 166.5,107.2 165.0,110.0C163.5,112.8 160.8,115.0 158.3,116.7C155.8,118.4 152.2,118.6 150.0,120.0C147.8,121.4 146.4,122.8 145.0,125.0C143.6,127.2 142.8,130.8 141.7,133.3C140.6,135.8 140.2,136.7 138.3,140.0C136.4,143.3 132.2,149.3 130.0,153.3C127.8,157.3 126.5,161.8 125.0,164.2C123.5,166.6 123.0,169.0 121.0,167.5C119.0,166.0 116.0,159.9 113.3,155.0C110.6,150.1 107.8,143.6 105.0,138.3C102.2,133.0 100.0,128.0 96.7,123.3C93.4,118.6 88.9,114.4 85.0,110.0C81.1,105.6 77.2,101.2 73.3,96.7C69.4,92.2 64.8,88.0 61.7,83.3C58.7,78.6 56.2,72.5 55.0,68.3C53.8,64.1 54.9,61.8 54.2,58.3C53.5,54.8 49.5,49.0 50.8,47.5Z" fill="none" stroke="#56639f" stroke-width="2.1" stroke-linecap="round" stroke-dasharray="0.01 4.2"/>
<path d="M200.0,42.5C202.5,41.5 204.1,43.5 208.3,44.2C212.5,44.9 219.4,46.2 225.0,46.7C230.6,47.2 237.8,47.0 241.7,47.5C245.6,48.0 245.5,49.0 248.3,50.0C251.1,51.0 254.1,52.5 258.3,53.3C262.5,54.1 269.1,54.2 273.3,55.0C277.5,55.8 280.0,57.2 283.3,58.3C286.6,59.4 290.9,60.3 293.3,61.7C295.7,63.1 296.5,63.7 297.5,66.7C298.5,69.8 298.9,75.0 299.2,80.0C299.5,85.0 299.1,92.5 299.2,96.7C299.3,100.9 299.3,102.2 300.0,105.0C300.7,107.8 302.5,110.5 303.3,113.3C304.1,116.1 305.0,118.9 305.0,122.0C305.0,125.1 304.4,128.4 303.3,132.0C302.2,135.6 300.5,139.8 298.3,143.3C296.1,146.9 293.1,150.5 290.0,153.3C286.9,156.1 283.5,158.4 280.0,160.0C276.5,161.6 272.1,163.7 269.0,163.0C265.9,162.3 264.6,158.7 261.7,155.8C258.8,152.9 255.6,150.1 251.7,145.8C247.8,141.5 241.6,134.0 238.3,130.0C235.0,126.0 233.9,124.2 231.7,121.7C229.5,119.2 227.8,117.5 225.0,115.0C222.2,112.5 218.1,109.2 215.0,106.7C211.9,104.2 210.3,102.1 206.7,100.0C203.1,97.9 196.5,95.9 193.3,94.2C190.1,92.5 187.8,91.8 187.5,90.0C187.2,88.2 189.6,86.1 191.7,83.3C193.8,80.5 199.2,75.8 200.0,73.3C200.8,70.8 198.2,70.5 196.7,68.3C195.2,66.1 191.4,63.0 190.8,60.0C190.2,57.0 191.8,52.9 193.3,50.0C194.8,47.1 197.5,43.5 200.0,42.5Z" fill="none" stroke="#8b6c55" stroke-width="2.2" stroke-linecap="round" stroke-dasharray="0.01 4.2"/>
<circle cx="95.7" cy="57.0" r="3.4" fill="#000" opacity="0.42" filter="url(#sblur)"/>
<circle cx="313.2" cy="63.6" r="3.4" fill="#000" opacity="0.42" filter="url(#sblur)"/>
<circle cx="127.7" cy="70.8" r="3.4" fill="#000" opacity="0.42" filter="url(#sblur)"/>
<circle cx="347.7" cy="78.6" r="3.4" fill="#000" opacity="0.42" filter="url(#sblur)"/>
<circle cx="142.7" cy="87.0" r="3.4" fill="#000" opacity="0.42" filter="url(#sblur)"/>
<circle cx="345.9" cy="93.3" r="3.4" fill="#000" opacity="0.42" filter="url(#sblur)"/>
<circle cx="44.1" cy="97.0" r="3.4" fill="#000" opacity="0.42" filter="url(#sblur)"/>
<circle cx="266.9" cy="102.6" r="3.4" fill="#000" opacity="0.42" filter="url(#sblur)"/>
<circle cx="109.4" cy="119.5" r="3.4" fill="#000" opacity="0.42" filter="url(#sblur)"/>
<circle cx="243.4" cy="115.6" r="3.4" fill="#000" opacity="0.42" filter="url(#sblur)"/>
<circle cx="126.1" cy="122.3" r="3.4" fill="#000" opacity="0.42" filter="url(#sblur)"/>
<circle cx="321.7" cy="133.8" r="3.4" fill="#000" opacity="0.42" filter="url(#sblur)"/>
<circle cx="122.1" cy="135.3" r="3.4" fill="#000" opacity="0.42" filter="url(#sblur)"/>
<circle cx="261.4" cy="137.1" r="3.4" fill="#000" opacity="0.42" filter="url(#sblur)"/>
<circle cx="119.4" cy="150.8" r="3.4" fill="#000" opacity="0.42" filter="url(#sblur)"/>
<circle cx="306.4" cy="160.3" r="3.4" fill="#000" opacity="0.42" filter="url(#sblur)"/>
<circle cx="113.2" cy="159.0" r="3.4" fill="#000" opacity="0.42" filter="url(#sblur)"/>
<circle cx="327.4" cy="166.1" r="3.4" fill="#000" opacity="0.42" filter="url(#sblur)"/>
<line x1="93.3" y1="54.2" x2="310.8" y2="60.8" stroke="#ff1a1a" stroke-width="2.5"/>
<line x1="125.3" y1="68.0" x2="345.3" y2="75.8" stroke="#ff1a1a" stroke-width="2.5"/>
<line x1="140.3" y1="84.2" x2="343.5" y2="90.5" stroke="#ff1a1a" stroke-width="2.5"/>
<line x1="41.7" y1="94.2" x2="264.5" y2="99.8" stroke="#ff1a1a" stroke-width="2.5"/>
<line x1="107.0" y1="116.7" x2="241.0" y2="112.8" stroke="#17ad4e" stroke-width="2.5"/>
<line x1="123.7" y1="119.5" x2="319.3" y2="131.0" stroke="#ff1a1a" stroke-width="2.5"/>
<line x1="119.7" y1="132.5" x2="259.0" y2="134.3" stroke="#17ad4e" stroke-width="2.5"/>
<line x1="117.0" y1="148.0" x2="304.0" y2="157.5" stroke="#ff1a1a" stroke-width="2.5"/>
<line x1="110.8" y1="156.2" x2="325.0" y2="163.3" stroke="#ff1a1a" stroke-width="2.5"/>
<circle cx="93.3" cy="54.2" r="2.75" fill="#fff" stroke="#000" stroke-width="1.85"/>
<circle cx="310.8" cy="60.8" r="2.75" fill="#fff" stroke="#000" stroke-width="1.85"/>
<circle cx="125.3" cy="68.0" r="2.75" fill="#fff" stroke="#000" stroke-width="1.85"/>
<circle cx="345.3" cy="75.8" r="2.75" fill="#fff" stroke="#000" stroke-width="1.85"/>
<circle cx="140.3" cy="84.2" r="2.75" fill="#fff" stroke="#000" stroke-width="1.85"/>
<circle cx="343.5" cy="90.5" r="2.75" fill="#fff" stroke="#000" stroke-width="1.85"/>
<circle cx="41.7" cy="94.2" r="2.75" fill="#fff" stroke="#000" stroke-width="1.85"/>
<circle cx="264.5" cy="99.8" r="2.75" fill="#fff" stroke="#000" stroke-width="1.85"/>
<circle cx="107.0" cy="116.7" r="2.75" fill="#fff" stroke="#000" stroke-width="1.85"/>
<circle cx="241.0" cy="112.8" r="2.75" fill="#fff" stroke="#000" stroke-width="1.85"/>
<circle cx="123.7" cy="119.5" r="2.75" fill="#fff" stroke="#000" stroke-width="1.85"/>
<circle cx="319.3" cy="131.0" r="2.75" fill="#fff" stroke="#000" stroke-width="1.85"/>
<circle cx="119.7" cy="132.5" r="2.75" fill="#fff" stroke="#000" stroke-width="1.85"/>
<circle cx="259.0" cy="134.3" r="2.75" fill="#fff" stroke="#000" stroke-width="1.85"/>
<circle cx="117.0" cy="148.0" r="2.75" fill="#fff" stroke="#000" stroke-width="1.85"/>
<circle cx="304.0" cy="157.5" r="2.75" fill="#fff" stroke="#000" stroke-width="1.85"/>
<circle cx="110.8" cy="156.2" r="2.75" fill="#fff" stroke="#000" stroke-width="1.85"/>
<circle cx="325.0" cy="163.3" r="2.75" fill="#fff" stroke="#000" stroke-width="1.85"/>
</g>
<g transform="translate(0,296.7)">
<path d="M57.5,48.3C59.0,46.9 62.4,49.0 65.0,50.0C67.6,51.0 70.5,53.1 73.3,54.1C76.1,55.1 78.9,56.1 81.7,55.8C84.5,55.5 87.2,53.3 90.0,52.5C92.8,51.7 94.1,50.7 98.3,50.8C102.5,50.9 109.4,52.3 115.0,53.3C120.6,54.3 126.1,55.6 131.7,56.6C137.2,57.6 143.6,58.3 148.3,59.1C153.0,59.9 156.8,60.4 160.0,61.6C163.2,62.9 165.6,64.1 167.5,66.6C169.4,69.1 170.7,73.0 171.7,76.6C172.7,80.2 172.8,84.4 173.3,88.3C173.9,92.2 175.0,96.4 175.0,100.0C175.0,103.6 174.4,107.2 173.3,110.0C172.2,112.8 171.1,114.7 168.3,116.6C165.5,118.5 159.8,119.6 156.7,121.6C153.6,123.5 151.7,126.1 150.0,128.3C148.3,130.5 148.4,131.7 146.7,135.0C145.0,138.3 141.9,144.4 140.0,148.3C138.1,152.2 136.7,154.8 135.0,158.3C133.3,161.8 131.7,166.9 130.0,169.2C128.3,171.5 126.4,172.2 125.0,172.0C123.6,171.8 123.7,171.7 121.7,168.3C119.8,164.9 115.8,156.7 113.3,151.7C110.8,146.7 108.9,142.2 106.7,138.3C104.5,134.4 102.5,131.9 100.0,128.3C97.5,124.7 94.5,120.2 91.7,116.6C88.9,113.0 86.6,110.5 83.3,106.6C80.0,102.7 75.3,97.7 71.7,93.3C68.1,88.9 64.2,84.2 61.7,80.0C59.2,75.8 57.7,71.9 56.7,68.3C55.7,64.7 55.7,61.6 55.8,58.3C55.9,55.0 56.0,49.7 57.5,48.3Z" fill="#f3cf4c" stroke="#f3cf4c" stroke-width="11" stroke-linejoin="round" opacity="0.95" filter="url(#glow)"/>
<path d="M201.7,45.0C204.0,43.7 208.6,44.9 213.3,45.3C218.0,45.7 224.4,47.0 230.0,47.5C235.6,48.0 242.0,47.8 246.7,48.3C251.4,48.8 253.9,49.8 258.3,50.8C262.7,51.8 268.3,53.1 273.3,54.2C278.3,55.3 283.3,56.5 288.3,57.5C293.3,58.5 299.8,58.5 303.3,60.0C306.8,61.5 307.8,63.7 309.2,66.7C310.6,69.8 311.3,74.1 311.7,78.3C312.1,82.5 311.7,87.0 311.7,91.7C311.7,96.4 310.9,102.3 311.7,106.7C312.5,111.1 315.7,114.4 316.7,118.3C317.7,122.2 318.1,126.1 317.5,130.0C316.9,133.9 315.1,137.8 313.3,141.7C311.5,145.6 309.2,150.0 306.7,153.3C304.2,156.6 301.4,159.3 298.3,161.7C295.2,164.1 291.1,166.3 288.3,167.5C285.5,168.7 283.9,169.0 281.7,168.6C279.5,168.2 277.5,167.3 275.0,165.0C272.5,162.7 269.8,158.6 266.7,155.0C263.6,151.4 260.3,147.5 256.7,143.3C253.1,139.1 248.6,134.2 245.0,130.0C241.4,125.8 238.6,121.9 235.0,118.3C231.4,114.7 226.9,111.2 223.3,108.3C219.7,105.4 216.9,102.7 213.3,100.8C209.7,98.9 204.6,98.2 201.7,96.7C198.8,95.2 196.1,93.9 195.8,91.7C195.5,89.5 198.2,86.1 200.0,83.3C201.8,80.5 205.9,77.3 206.7,75.0C207.5,72.7 206.1,71.2 205.0,69.2C203.9,67.2 201.0,66.0 200.0,63.3C199.0,60.6 198.9,56.3 199.2,53.3C199.5,50.2 199.3,46.3 201.7,45.0Z" fill="#8496ef" stroke="#8496ef" stroke-width="12" stroke-linejoin="round" opacity="0.72" filter="url(#glow)"/>
<path d="M57.5,48.3C59.0,46.9 62.4,49.0 65.0,50.0C67.6,51.0 70.5,53.1 73.3,54.1C76.1,55.1 78.9,56.1 81.7,55.8C84.5,55.5 87.2,53.3 90.0,52.5C92.8,51.7 94.1,50.7 98.3,50.8C102.5,50.9 109.4,52.3 115.0,53.3C120.6,54.3 126.1,55.6 131.7,56.6C137.2,57.6 143.6,58.3 148.3,59.1C153.0,59.9 156.8,60.4 160.0,61.6C163.2,62.9 165.6,64.1 167.5,66.6C169.4,69.1 170.7,73.0 171.7,76.6C172.7,80.2 172.8,84.4 173.3,88.3C173.9,92.2 175.0,96.4 175.0,100.0C175.0,103.6 174.4,107.2 173.3,110.0C172.2,112.8 171.1,114.7 168.3,116.6C165.5,118.5 159.8,119.6 156.7,121.6C153.6,123.5 151.7,126.1 150.0,128.3C148.3,130.5 148.4,131.7 146.7,135.0C145.0,138.3 141.9,144.4 140.0,148.3C138.1,152.2 136.7,154.8 135.0,158.3C133.3,161.8 131.7,166.9 130.0,169.2C128.3,171.5 126.4,172.2 125.0,172.0C123.6,171.8 123.7,171.7 121.7,168.3C119.8,164.9 115.8,156.7 113.3,151.7C110.8,146.7 108.9,142.2 106.7,138.3C104.5,134.4 102.5,131.9 100.0,128.3C97.5,124.7 94.5,120.2 91.7,116.6C88.9,113.0 86.6,110.5 83.3,106.6C80.0,102.7 75.3,97.7 71.7,93.3C68.1,88.9 64.2,84.2 61.7,80.0C59.2,75.8 57.7,71.9 56.7,68.3C55.7,64.7 55.7,61.6 55.8,58.3C55.9,55.0 56.0,49.7 57.5,48.3Z" fill="#fff"/><path d="M201.7,45.0C204.0,43.7 208.6,44.9 213.3,45.3C218.0,45.7 224.4,47.0 230.0,47.5C235.6,48.0 242.0,47.8 246.7,48.3C251.4,48.8 253.9,49.8 258.3,50.8C262.7,51.8 268.3,53.1 273.3,54.2C278.3,55.3 283.3,56.5 288.3,57.5C293.3,58.5 299.8,58.5 303.3,60.0C306.8,61.5 307.8,63.7 309.2,66.7C310.6,69.8 311.3,74.1 311.7,78.3C312.1,82.5 311.7,87.0 311.7,91.7C311.7,96.4 310.9,102.3 311.7,106.7C312.5,111.1 315.7,114.4 316.7,118.3C317.7,122.2 318.1,126.1 317.5,130.0C316.9,133.9 315.1,137.8 313.3,141.7C311.5,145.6 309.2,150.0 306.7,153.3C304.2,156.6 301.4,159.3 298.3,161.7C295.2,164.1 291.1,166.3 288.3,167.5C285.5,168.7 283.9,169.0 281.7,168.6C279.5,168.2 277.5,167.3 275.0,165.0C272.5,162.7 269.8,158.6 266.7,155.0C263.6,151.4 260.3,147.5 256.7,143.3C253.1,139.1 248.6,134.2 245.0,130.0C241.4,125.8 238.6,121.9 235.0,118.3C231.4,114.7 226.9,111.2 223.3,108.3C219.7,105.4 216.9,102.7 213.3,100.8C209.7,98.9 204.6,98.2 201.7,96.7C198.8,95.2 196.1,93.9 195.8,91.7C195.5,89.5 198.2,86.1 200.0,83.3C201.8,80.5 205.9,77.3 206.7,75.0C207.5,72.7 206.1,71.2 205.0,69.2C203.9,67.2 201.0,66.0 200.0,63.3C199.0,60.6 198.9,56.3 199.2,53.3C199.5,50.2 199.3,46.3 201.7,45.0Z" fill="#fff"/>
<use href="#ycloud" transform=""/>
<use href="#bcloud" transform=""/>

<path d="M57.5,48.3C59.0,46.9 62.4,49.0 65.0,50.0C67.6,51.0 70.5,53.1 73.3,54.1C76.1,55.1 78.9,56.1 81.7,55.8C84.5,55.5 87.2,53.3 90.0,52.5C92.8,51.7 94.1,50.7 98.3,50.8C102.5,50.9 109.4,52.3 115.0,53.3C120.6,54.3 126.1,55.6 131.7,56.6C137.2,57.6 143.6,58.3 148.3,59.1C153.0,59.9 156.8,60.4 160.0,61.6C163.2,62.9 165.6,64.1 167.5,66.6C169.4,69.1 170.7,73.0 171.7,76.6C172.7,80.2 172.8,84.4 173.3,88.3C173.9,92.2 175.0,96.4 175.0,100.0C175.0,103.6 174.4,107.2 173.3,110.0C172.2,112.8 171.1,114.7 168.3,116.6C165.5,118.5 159.8,119.6 156.7,121.6C153.6,123.5 151.7,126.1 150.0,128.3C148.3,130.5 148.4,131.7 146.7,135.0C145.0,138.3 141.9,144.4 140.0,148.3C138.1,152.2 136.7,154.8 135.0,158.3C133.3,161.8 131.7,166.9 130.0,169.2C128.3,171.5 126.4,172.2 125.0,172.0C123.6,171.8 123.7,171.7 121.7,168.3C119.8,164.9 115.8,156.7 113.3,151.7C110.8,146.7 108.9,142.2 106.7,138.3C104.5,134.4 102.5,131.9 100.0,128.3C97.5,124.7 94.5,120.2 91.7,116.6C88.9,113.0 86.6,110.5 83.3,106.6C80.0,102.7 75.3,97.7 71.7,93.3C68.1,88.9 64.2,84.2 61.7,80.0C59.2,75.8 57.7,71.9 56.7,68.3C55.7,64.7 55.7,61.6 55.8,58.3C55.9,55.0 56.0,49.7 57.5,48.3Z" fill="rgb(240,208,91)" opacity="0.55"/>
<path d="M201.7,45.0C204.0,43.7 208.6,44.9 213.3,45.3C218.0,45.7 224.4,47.0 230.0,47.5C235.6,48.0 242.0,47.8 246.7,48.3C251.4,48.8 253.9,49.8 258.3,50.8C262.7,51.8 268.3,53.1 273.3,54.2C278.3,55.3 283.3,56.5 288.3,57.5C293.3,58.5 299.8,58.5 303.3,60.0C306.8,61.5 307.8,63.7 309.2,66.7C310.6,69.8 311.3,74.1 311.7,78.3C312.1,82.5 311.7,87.0 311.7,91.7C311.7,96.4 310.9,102.3 311.7,106.7C312.5,111.1 315.7,114.4 316.7,118.3C317.7,122.2 318.1,126.1 317.5,130.0C316.9,133.9 315.1,137.8 313.3,141.7C311.5,145.6 309.2,150.0 306.7,153.3C304.2,156.6 301.4,159.3 298.3,161.7C295.2,164.1 291.1,166.3 288.3,167.5C285.5,168.7 283.9,169.0 281.7,168.6C279.5,168.2 277.5,167.3 275.0,165.0C272.5,162.7 269.8,158.6 266.7,155.0C263.6,151.4 260.3,147.5 256.7,143.3C253.1,139.1 248.6,134.2 245.0,130.0C241.4,125.8 238.6,121.9 235.0,118.3C231.4,114.7 226.9,111.2 223.3,108.3C219.7,105.4 216.9,102.7 213.3,100.8C209.7,98.9 204.6,98.2 201.7,96.7C198.8,95.2 196.1,93.9 195.8,91.7C195.5,89.5 198.2,86.1 200.0,83.3C201.8,80.5 205.9,77.3 206.7,75.0C207.5,72.7 206.1,71.2 205.0,69.2C203.9,67.2 201.0,66.0 200.0,63.3C199.0,60.6 198.9,56.3 199.2,53.3C199.5,50.2 199.3,46.3 201.7,45.0Z" fill="rgb(135,152,235)" opacity="0.46"/>
<path d="M57.5,48.3C59.0,46.9 62.4,49.0 65.0,50.0C67.6,51.0 70.5,53.1 73.3,54.1C76.1,55.1 78.9,56.1 81.7,55.8C84.5,55.5 87.2,53.3 90.0,52.5C92.8,51.7 94.1,50.7 98.3,50.8C102.5,50.9 109.4,52.3 115.0,53.3C120.6,54.3 126.1,55.6 131.7,56.6C137.2,57.6 143.6,58.3 148.3,59.1C153.0,59.9 156.8,60.4 160.0,61.6C163.2,62.9 165.6,64.1 167.5,66.6C169.4,69.1 170.7,73.0 171.7,76.6C172.7,80.2 172.8,84.4 173.3,88.3C173.9,92.2 175.0,96.4 175.0,100.0C175.0,103.6 174.4,107.2 173.3,110.0C172.2,112.8 171.1,114.7 168.3,116.6C165.5,118.5 159.8,119.6 156.7,121.6C153.6,123.5 151.7,126.1 150.0,128.3C148.3,130.5 148.4,131.7 146.7,135.0C145.0,138.3 141.9,144.4 140.0,148.3C138.1,152.2 136.7,154.8 135.0,158.3C133.3,161.8 131.7,166.9 130.0,169.2C128.3,171.5 126.4,172.2 125.0,172.0C123.6,171.8 123.7,171.7 121.7,168.3C119.8,164.9 115.8,156.7 113.3,151.7C110.8,146.7 108.9,142.2 106.7,138.3C104.5,134.4 102.5,131.9 100.0,128.3C97.5,124.7 94.5,120.2 91.7,116.6C88.9,113.0 86.6,110.5 83.3,106.6C80.0,102.7 75.3,97.7 71.7,93.3C68.1,88.9 64.2,84.2 61.7,80.0C59.2,75.8 57.7,71.9 56.7,68.3C55.7,64.7 55.7,61.6 55.8,58.3C55.9,55.0 56.0,49.7 57.5,48.3Z" fill="none" stroke="#56639f" stroke-width="2.1" stroke-linecap="round" stroke-dasharray="0.01 4.2"/>
<path d="M201.7,45.0C204.0,43.7 208.6,44.9 213.3,45.3C218.0,45.7 224.4,47.0 230.0,47.5C235.6,48.0 242.0,47.8 246.7,48.3C251.4,48.8 253.9,49.8 258.3,50.8C262.7,51.8 268.3,53.1 273.3,54.2C278.3,55.3 283.3,56.5 288.3,57.5C293.3,58.5 299.8,58.5 303.3,60.0C306.8,61.5 307.8,63.7 309.2,66.7C310.6,69.8 311.3,74.1 311.7,78.3C312.1,82.5 311.7,87.0 311.7,91.7C311.7,96.4 310.9,102.3 311.7,106.7C312.5,111.1 315.7,114.4 316.7,118.3C317.7,122.2 318.1,126.1 317.5,130.0C316.9,133.9 315.1,137.8 313.3,141.7C311.5,145.6 309.2,150.0 306.7,153.3C304.2,156.6 301.4,159.3 298.3,161.7C295.2,164.1 291.1,166.3 288.3,167.5C285.5,168.7 283.9,169.0 281.7,168.6C279.5,168.2 277.5,167.3 275.0,165.0C272.5,162.7 269.8,158.6 266.7,155.0C263.6,151.4 260.3,147.5 256.7,143.3C253.1,139.1 248.6,134.2 245.0,130.0C241.4,125.8 238.6,121.9 235.0,118.3C231.4,114.7 226.9,111.2 223.3,108.3C219.7,105.4 216.9,102.7 213.3,100.8C209.7,98.9 204.6,98.2 201.7,96.7C198.8,95.2 196.1,93.9 195.8,91.7C195.5,89.5 198.2,86.1 200.0,83.3C201.8,80.5 205.9,77.3 206.7,75.0C207.5,72.7 206.1,71.2 205.0,69.2C203.9,67.2 201.0,66.0 200.0,63.3C199.0,60.6 198.9,56.3 199.2,53.3C199.5,50.2 199.3,46.3 201.7,45.0Z" fill="none" stroke="#8b6c55" stroke-width="2.2" stroke-linecap="round" stroke-dasharray="0.01 4.2"/>
<circle cx="113.7" cy="123.1" r="3.4" fill="#000" opacity="0.42" filter="url(#sblur)"/>
<circle cx="253.1" cy="118.6" r="3.4" fill="#000" opacity="0.42" filter="url(#sblur)"/>
<circle cx="127.1" cy="139.1" r="3.4" fill="#000" opacity="0.42" filter="url(#sblur)"/>
<circle cx="272.5" cy="141.0" r="3.4" fill="#000" opacity="0.42" filter="url(#sblur)"/>
<line x1="111.3" y1="120.3" x2="250.7" y2="115.8" stroke="#17ad4e" stroke-width="2.5"/>
<line x1="124.7" y1="136.3" x2="270.1" y2="138.2" stroke="#17ad4e" stroke-width="2.5"/>
<circle cx="111.3" cy="120.3" r="2.75" fill="#fff" stroke="#000" stroke-width="1.85"/>
<circle cx="250.7" cy="115.8" r="2.75" fill="#fff" stroke="#000" stroke-width="1.85"/>
<circle cx="124.7" cy="136.3" r="2.75" fill="#fff" stroke="#000" stroke-width="1.85"/>
<circle cx="270.1" cy="138.2" r="2.75" fill="#fff" stroke="#000" stroke-width="1.85"/>
</g>
<g transform="translate(492.3,296.7)">
<path d="M58.0,53.3C60.0,51.2 66.6,53.0 69.7,54.1C72.8,55.2 73.6,59.4 76.4,60.0C79.2,60.6 83.1,58.8 86.4,58.0C89.7,57.2 92.0,55.2 96.4,55.0C100.8,54.8 107.5,55.8 113.0,56.6C118.5,57.4 124.1,58.9 129.7,60.0C135.3,61.1 141.7,62.3 146.4,63.3C151.1,64.3 154.9,64.7 158.0,65.8C161.1,66.9 163.2,67.4 164.7,70.0C166.2,72.6 166.4,77.7 167.2,81.6C168.0,85.5 169.0,89.1 169.7,93.3C170.4,97.5 171.4,102.3 171.4,106.6C171.4,110.9 171.4,115.9 169.7,119.0C168.0,122.1 164.1,123.2 161.0,125.0C157.9,126.8 153.4,127.7 151.0,130.0C148.6,132.3 147.8,135.9 146.4,139.0C145.0,142.1 144.7,144.2 142.7,148.3C140.7,152.4 136.9,158.6 134.4,163.3C131.9,168.0 129.4,173.8 127.7,176.6C126.0,179.4 125.8,180.0 124.4,180.0C123.0,180.0 121.4,179.7 119.4,176.6C117.5,173.5 115.5,167.7 112.7,161.6C109.9,155.5 106.6,147.2 102.7,140.0C98.8,132.8 93.6,124.7 89.4,118.3C85.2,111.9 81.3,106.3 77.7,101.6C74.1,96.9 70.4,93.6 67.7,90.0C65.0,86.4 63.0,83.9 61.4,80.0C59.8,76.1 58.6,71.0 58.0,66.6C57.4,62.1 56.0,55.4 58.0,53.3Z" fill="#f3cf4c" stroke="#f3cf4c" stroke-width="11" stroke-linejoin="round" opacity="0.95" filter="url(#glow)"/>
<path d="M198.0,49.2C201.3,47.2 206.3,49.7 213.0,50.0C219.7,50.3 232.4,50.4 238.0,50.8C243.6,51.2 243.6,51.4 246.4,52.5C249.2,53.6 250.3,56.2 254.7,57.5C259.1,58.8 267.4,58.9 273.0,60.0C278.6,61.1 284.1,62.8 288.0,64.2C291.9,65.6 294.3,66.2 296.4,68.3C298.5,70.4 299.7,72.8 300.5,76.7C301.3,80.6 301.1,87.3 301.2,91.7C301.3,96.1 300.8,99.2 301.0,103.3C301.2,107.4 301.9,112.4 302.7,116.6C303.5,120.8 305.6,124.4 306.0,128.3C306.4,132.2 305.9,136.1 305.2,140.0C304.5,143.9 303.7,147.7 301.9,151.6C300.1,155.5 297.3,159.8 294.4,163.3C291.5,166.8 287.7,170.6 284.4,172.5C281.1,174.4 277.5,175.4 274.4,175.0C271.3,174.6 268.8,172.5 266.0,170.0C263.2,167.5 260.8,163.6 257.7,160.0C254.6,156.4 250.8,152.2 247.7,148.3C244.6,144.4 242.4,140.2 239.4,136.6C236.4,133.0 232.7,129.9 229.4,126.6C226.1,123.3 222.7,119.6 219.4,116.6C216.1,113.5 213.0,110.5 209.4,108.3C205.8,106.1 200.2,105.8 197.7,103.3C195.2,100.8 194.4,96.5 194.4,93.3C194.4,90.1 196.7,86.7 197.7,84.0C198.7,81.3 200.7,79.0 200.5,77.0C200.3,75.0 197.7,74.2 196.4,71.7C195.2,69.2 192.7,65.5 193.0,61.7C193.3,58.0 194.7,51.2 198.0,49.2Z" fill="#8496ef" stroke="#8496ef" stroke-width="12" stroke-linejoin="round" opacity="0.72" filter="url(#glow)"/>
<path d="M58.0,53.3C60.0,51.2 66.6,53.0 69.7,54.1C72.8,55.2 73.6,59.4 76.4,60.0C79.2,60.6 83.1,58.8 86.4,58.0C89.7,57.2 92.0,55.2 96.4,55.0C100.8,54.8 107.5,55.8 113.0,56.6C118.5,57.4 124.1,58.9 129.7,60.0C135.3,61.1 141.7,62.3 146.4,63.3C151.1,64.3 154.9,64.7 158.0,65.8C161.1,66.9 163.2,67.4 164.7,70.0C166.2,72.6 166.4,77.7 167.2,81.6C168.0,85.5 169.0,89.1 169.7,93.3C170.4,97.5 171.4,102.3 171.4,106.6C171.4,110.9 171.4,115.9 169.7,119.0C168.0,122.1 164.1,123.2 161.0,125.0C157.9,126.8 153.4,127.7 151.0,130.0C148.6,132.3 147.8,135.9 146.4,139.0C145.0,142.1 144.7,144.2 142.7,148.3C140.7,152.4 136.9,158.6 134.4,163.3C131.9,168.0 129.4,173.8 127.7,176.6C126.0,179.4 125.8,180.0 124.4,180.0C123.0,180.0 121.4,179.7 119.4,176.6C117.5,173.5 115.5,167.7 112.7,161.6C109.9,155.5 106.6,147.2 102.7,140.0C98.8,132.8 93.6,124.7 89.4,118.3C85.2,111.9 81.3,106.3 77.7,101.6C74.1,96.9 70.4,93.6 67.7,90.0C65.0,86.4 63.0,83.9 61.4,80.0C59.8,76.1 58.6,71.0 58.0,66.6C57.4,62.1 56.0,55.4 58.0,53.3Z" fill="#fff"/><path d="M198.0,49.2C201.3,47.2 206.3,49.7 213.0,50.0C219.7,50.3 232.4,50.4 238.0,50.8C243.6,51.2 243.6,51.4 246.4,52.5C249.2,53.6 250.3,56.2 254.7,57.5C259.1,58.8 267.4,58.9 273.0,60.0C278.6,61.1 284.1,62.8 288.0,64.2C291.9,65.6 294.3,66.2 296.4,68.3C298.5,70.4 299.7,72.8 300.5,76.7C301.3,80.6 301.1,87.3 301.2,91.7C301.3,96.1 300.8,99.2 301.0,103.3C301.2,107.4 301.9,112.4 302.7,116.6C303.5,120.8 305.6,124.4 306.0,128.3C306.4,132.2 305.9,136.1 305.2,140.0C304.5,143.9 303.7,147.7 301.9,151.6C300.1,155.5 297.3,159.8 294.4,163.3C291.5,166.8 287.7,170.6 284.4,172.5C281.1,174.4 277.5,175.4 274.4,175.0C271.3,174.6 268.8,172.5 266.0,170.0C263.2,167.5 260.8,163.6 257.7,160.0C254.6,156.4 250.8,152.2 247.7,148.3C244.6,144.4 242.4,140.2 239.4,136.6C236.4,133.0 232.7,129.9 229.4,126.6C226.1,123.3 222.7,119.6 219.4,116.6C216.1,113.5 213.0,110.5 209.4,108.3C205.8,106.1 200.2,105.8 197.7,103.3C195.2,100.8 194.4,96.5 194.4,93.3C194.4,90.1 196.7,86.7 197.7,84.0C198.7,81.3 200.7,79.0 200.5,77.0C200.3,75.0 197.7,74.2 196.4,71.7C195.2,69.2 192.7,65.5 193.0,61.7C193.3,58.0 194.7,51.2 198.0,49.2Z" fill="#fff"/>
<use href="#ycloud" transform="translate(120,100) scale(0.97,1.075) translate(-120,-100)"/>
<use href="#bcloud" transform="translate(1,-1.5)"/>
<g filter="url(#texb)"><polygon points="209.4,108.3 219.4,116.6 229.4,126.6 239.4,136.6 247.7,148.3 257.7,160.0 266.0,170.0 274.4,175.0 284.4,172.5 294.4,163.3 301.9,151.6 290.0,150.0 262.0,140.0 240.0,125.0 225.0,112.0" fill="#2893e3" /></g>
<path d="M58.0,53.3C60.0,51.2 66.6,53.0 69.7,54.1C72.8,55.2 73.6,59.4 76.4,60.0C79.2,60.6 83.1,58.8 86.4,58.0C89.7,57.2 92.0,55.2 96.4,55.0C100.8,54.8 107.5,55.8 113.0,56.6C118.5,57.4 124.1,58.9 129.7,60.0C135.3,61.1 141.7,62.3 146.4,63.3C151.1,64.3 154.9,64.7 158.0,65.8C161.1,66.9 163.2,67.4 164.7,70.0C166.2,72.6 166.4,77.7 167.2,81.6C168.0,85.5 169.0,89.1 169.7,93.3C170.4,97.5 171.4,102.3 171.4,106.6C171.4,110.9 171.4,115.9 169.7,119.0C168.0,122.1 164.1,123.2 161.0,125.0C157.9,126.8 153.4,127.7 151.0,130.0C148.6,132.3 147.8,135.9 146.4,139.0C145.0,142.1 144.7,144.2 142.7,148.3C140.7,152.4 136.9,158.6 134.4,163.3C131.9,168.0 129.4,173.8 127.7,176.6C126.0,179.4 125.8,180.0 124.4,180.0C123.0,180.0 121.4,179.7 119.4,176.6C117.5,173.5 115.5,167.7 112.7,161.6C109.9,155.5 106.6,147.2 102.7,140.0C98.8,132.8 93.6,124.7 89.4,118.3C85.2,111.9 81.3,106.3 77.7,101.6C74.1,96.9 70.4,93.6 67.7,90.0C65.0,86.4 63.0,83.9 61.4,80.0C59.8,76.1 58.6,71.0 58.0,66.6C57.4,62.1 56.0,55.4 58.0,53.3Z" fill="rgb(240,208,91)" opacity="0.55"/>
<path d="M198.0,49.2C201.3,47.2 206.3,49.7 213.0,50.0C219.7,50.3 232.4,50.4 238.0,50.8C243.6,51.2 243.6,51.4 246.4,52.5C249.2,53.6 250.3,56.2 254.7,57.5C259.1,58.8 267.4,58.9 273.0,60.0C278.6,61.1 284.1,62.8 288.0,64.2C291.9,65.6 294.3,66.2 296.4,68.3C298.5,70.4 299.7,72.8 300.5,76.7C301.3,80.6 301.1,87.3 301.2,91.7C301.3,96.1 300.8,99.2 301.0,103.3C301.2,107.4 301.9,112.4 302.7,116.6C303.5,120.8 305.6,124.4 306.0,128.3C306.4,132.2 305.9,136.1 305.2,140.0C304.5,143.9 303.7,147.7 301.9,151.6C300.1,155.5 297.3,159.8 294.4,163.3C291.5,166.8 287.7,170.6 284.4,172.5C281.1,174.4 277.5,175.4 274.4,175.0C271.3,174.6 268.8,172.5 266.0,170.0C263.2,167.5 260.8,163.6 257.7,160.0C254.6,156.4 250.8,152.2 247.7,148.3C244.6,144.4 242.4,140.2 239.4,136.6C236.4,133.0 232.7,129.9 229.4,126.6C226.1,123.3 222.7,119.6 219.4,116.6C216.1,113.5 213.0,110.5 209.4,108.3C205.8,106.1 200.2,105.8 197.7,103.3C195.2,100.8 194.4,96.5 194.4,93.3C194.4,90.1 196.7,86.7 197.7,84.0C198.7,81.3 200.7,79.0 200.5,77.0C200.3,75.0 197.7,74.2 196.4,71.7C195.2,69.2 192.7,65.5 193.0,61.7C193.3,58.0 194.7,51.2 198.0,49.2Z" fill="rgb(135,152,235)" opacity="0.46"/>
<path d="M58.0,53.3C60.0,51.2 66.6,53.0 69.7,54.1C72.8,55.2 73.6,59.4 76.4,60.0C79.2,60.6 83.1,58.8 86.4,58.0C89.7,57.2 92.0,55.2 96.4,55.0C100.8,54.8 107.5,55.8 113.0,56.6C118.5,57.4 124.1,58.9 129.7,60.0C135.3,61.1 141.7,62.3 146.4,63.3C151.1,64.3 154.9,64.7 158.0,65.8C161.1,66.9 163.2,67.4 164.7,70.0C166.2,72.6 166.4,77.7 167.2,81.6C168.0,85.5 169.0,89.1 169.7,93.3C170.4,97.5 171.4,102.3 171.4,106.6C171.4,110.9 171.4,115.9 169.7,119.0C168.0,122.1 164.1,123.2 161.0,125.0C157.9,126.8 153.4,127.7 151.0,130.0C148.6,132.3 147.8,135.9 146.4,139.0C145.0,142.1 144.7,144.2 142.7,148.3C140.7,152.4 136.9,158.6 134.4,163.3C131.9,168.0 129.4,173.8 127.7,176.6C126.0,179.4 125.8,180.0 124.4,180.0C123.0,180.0 121.4,179.7 119.4,176.6C117.5,173.5 115.5,167.7 112.7,161.6C109.9,155.5 106.6,147.2 102.7,140.0C98.8,132.8 93.6,124.7 89.4,118.3C85.2,111.9 81.3,106.3 77.7,101.6C74.1,96.9 70.4,93.6 67.7,90.0C65.0,86.4 63.0,83.9 61.4,80.0C59.8,76.1 58.6,71.0 58.0,66.6C57.4,62.1 56.0,55.4 58.0,53.3Z" fill="none" stroke="#56639f" stroke-width="2.1" stroke-linecap="round" stroke-dasharray="0.01 4.2"/>
<path d="M198.0,49.2C201.3,47.2 206.3,49.7 213.0,50.0C219.7,50.3 232.4,50.4 238.0,50.8C243.6,51.2 243.6,51.4 246.4,52.5C249.2,53.6 250.3,56.2 254.7,57.5C259.1,58.8 267.4,58.9 273.0,60.0C278.6,61.1 284.1,62.8 288.0,64.2C291.9,65.6 294.3,66.2 296.4,68.3C298.5,70.4 299.7,72.8 300.5,76.7C301.3,80.6 301.1,87.3 301.2,91.7C301.3,96.1 300.8,99.2 301.0,103.3C301.2,107.4 301.9,112.4 302.7,116.6C303.5,120.8 305.6,124.4 306.0,128.3C306.4,132.2 305.9,136.1 305.2,140.0C304.5,143.9 303.7,147.7 301.9,151.6C300.1,155.5 297.3,159.8 294.4,163.3C291.5,166.8 287.7,170.6 284.4,172.5C281.1,174.4 277.5,175.4 274.4,175.0C271.3,174.6 268.8,172.5 266.0,170.0C263.2,167.5 260.8,163.6 257.7,160.0C254.6,156.4 250.8,152.2 247.7,148.3C244.6,144.4 242.4,140.2 239.4,136.6C236.4,133.0 232.7,129.9 229.4,126.6C226.1,123.3 222.7,119.6 219.4,116.6C216.1,113.5 213.0,110.5 209.4,108.3C205.8,106.1 200.2,105.8 197.7,103.3C195.2,100.8 194.4,96.5 194.4,93.3C194.4,90.1 196.7,86.7 197.7,84.0C198.7,81.3 200.7,79.0 200.5,77.0C200.3,75.0 197.7,74.2 196.4,71.7C195.2,69.2 192.7,65.5 193.0,61.7C193.3,58.0 194.7,51.2 198.0,49.2Z" fill="none" stroke="#8b6c55" stroke-width="2.2" stroke-linecap="round" stroke-dasharray="0.01 4.2"/>
<circle cx="92.3" cy="98.6" r="3.4" fill="#000" opacity="0.42" filter="url(#sblur)"/>
<circle cx="246.8" cy="98.4" r="3.4" fill="#000" opacity="0.42" filter="url(#sblur)"/>
<circle cx="114.3" cy="96.1" r="3.4" fill="#000" opacity="0.42" filter="url(#sblur)"/>
<circle cx="282.1" cy="87.8" r="3.4" fill="#000" opacity="0.42" filter="url(#sblur)"/>
<circle cx="145.6" cy="92.8" r="3.4" fill="#000" opacity="0.42" filter="url(#sblur)"/>
<circle cx="253.9" cy="93.1" r="3.4" fill="#000" opacity="0.42" filter="url(#sblur)"/>
<circle cx="117.6" cy="104.1" r="3.4" fill="#000" opacity="0.42" filter="url(#sblur)"/>
<circle cx="254.3" cy="101.6" r="3.4" fill="#000" opacity="0.42" filter="url(#sblur)"/>
<circle cx="108.4" cy="107.3" r="3.4" fill="#000" opacity="0.42" filter="url(#sblur)"/>
<circle cx="148.8" cy="104.1" r="3.4" fill="#000" opacity="0.42" filter="url(#sblur)"/>
<circle cx="284.6" cy="104.4" r="3.4" fill="#000" opacity="0.42" filter="url(#sblur)"/>
<circle cx="137.1" cy="110.3" r="3.4" fill="#000" opacity="0.42" filter="url(#sblur)"/>
<circle cx="268.4" cy="110.3" r="3.4" fill="#000" opacity="0.42" filter="url(#sblur)"/>
<circle cx="154.6" cy="116.1" r="3.4" fill="#000" opacity="0.42" filter="url(#sblur)"/>
<circle cx="288.1" cy="116.1" r="3.4" fill="#000" opacity="0.42" filter="url(#sblur)"/>
<circle cx="112.6" cy="128.3" r="3.4" fill="#000" opacity="0.42" filter="url(#sblur)"/>
<circle cx="247.4" cy="124.1" r="3.4" fill="#000" opacity="0.42" filter="url(#sblur)"/>
<circle cx="128.8" cy="131.1" r="3.4" fill="#000" opacity="0.42" filter="url(#sblur)"/>
<circle cx="260.1" cy="128.9" r="3.4" fill="#000" opacity="0.42" filter="url(#sblur)"/>
<circle cx="139.8" cy="137.8" r="3.4" fill="#000" opacity="0.42" filter="url(#sblur)"/>
<circle cx="271.4" cy="134.4" r="3.4" fill="#000" opacity="0.42" filter="url(#sblur)"/>
<circle cx="124.8" cy="139.1" r="3.4" fill="#000" opacity="0.42" filter="url(#sblur)"/>
<circle cx="268.9" cy="139.4" r="3.4" fill="#000" opacity="0.42" filter="url(#sblur)"/>
<circle cx="123.1" cy="145.8" r="3.4" fill="#000" opacity="0.42" filter="url(#sblur)"/>
<circle cx="263.4" cy="140.8" r="3.4" fill="#000" opacity="0.42" filter="url(#sblur)"/>
<circle cx="116.8" cy="149.4" r="3.4" fill="#000" opacity="0.42" filter="url(#sblur)"/>
<circle cx="256.4" cy="146.6" r="3.4" fill="#000" opacity="0.42" filter="url(#sblur)"/>
<circle cx="135.9" cy="158.9" r="3.4" fill="#000" opacity="0.42" filter="url(#sblur)"/>
<circle cx="265.4" cy="158.1" r="3.4" fill="#000" opacity="0.42" filter="url(#sblur)"/>
<circle cx="122.3" cy="161.4" r="3.4" fill="#000" opacity="0.42" filter="url(#sblur)"/>
<circle cx="283.4" cy="161.1" r="3.4" fill="#000" opacity="0.42" filter="url(#sblur)"/>
<circle cx="115.9" cy="170.6" r="3.4" fill="#000" opacity="0.42" filter="url(#sblur)"/>
<circle cx="268.4" cy="166.6" r="3.4" fill="#000" opacity="0.42" filter="url(#sblur)"/>
<line x1="89.9" y1="95.8" x2="244.4" y2="95.6" stroke="#ff1a1a" stroke-width="2.5"/>
<line x1="111.9" y1="93.3" x2="279.7" y2="85.0" stroke="#17ad4e" stroke-width="2.5"/>
<line x1="143.2" y1="90.0" x2="251.5" y2="90.3" stroke="#17ad4e" stroke-width="2.5"/>
<line x1="115.2" y1="101.3" x2="251.9" y2="98.8" stroke="#17ad4e" stroke-width="2.5"/>
<line x1="146.4" y1="101.3" x2="282.2" y2="101.6" stroke="#17ad4e" stroke-width="2.5"/>
<line x1="134.7" y1="107.5" x2="266.0" y2="107.5" stroke="#17ad4e" stroke-width="2.5"/>
<line x1="152.2" y1="113.3" x2="285.7" y2="113.3" stroke="#17ad4e" stroke-width="2.5"/>
<line x1="110.2" y1="125.5" x2="245.0" y2="121.3" stroke="#17ad4e" stroke-width="2.5"/>
<line x1="126.4" y1="128.3" x2="257.7" y2="126.1" stroke="#17ad4e" stroke-width="2.5"/>
<line x1="137.4" y1="135.0" x2="269.0" y2="131.6" stroke="#17ad4e" stroke-width="2.5"/>
<line x1="122.4" y1="136.3" x2="266.5" y2="136.6" stroke="#17ad4e" stroke-width="2.5"/>
<line x1="120.7" y1="143.0" x2="261.0" y2="138.0" stroke="#17ad4e" stroke-width="2.5"/>
<line x1="114.4" y1="146.6" x2="254.0" y2="143.8" stroke="#17ad4e" stroke-width="2.5"/>
<line x1="133.5" y1="156.1" x2="263.0" y2="155.3" stroke="#17ad4e" stroke-width="2.5"/>
<line x1="119.9" y1="158.6" x2="281.0" y2="158.3" stroke="#17ad4e" stroke-width="2.5"/>
<line x1="113.5" y1="167.8" x2="266.0" y2="163.8" stroke="#ff1a1a" stroke-width="2.5"/>
<circle cx="89.9" cy="95.8" r="2.75" fill="#fff" stroke="#000" stroke-width="1.85"/>
<circle cx="244.4" cy="95.6" r="2.75" fill="#fff" stroke="#000" stroke-width="1.85"/>
<circle cx="111.9" cy="93.3" r="2.75" fill="#fff" stroke="#000" stroke-width="1.85"/>
<circle cx="279.7" cy="85.0" r="2.75" fill="#fff" stroke="#000" stroke-width="1.85"/>
<circle cx="143.2" cy="90.0" r="2.75" fill="#fff" stroke="#000" stroke-width="1.85"/>
<circle cx="251.5" cy="90.3" r="2.75" fill="#fff" stroke="#000" stroke-width="1.85"/>
<circle cx="115.2" cy="101.3" r="2.75" fill="#fff" stroke="#000" stroke-width="1.85"/>
<circle cx="251.9" cy="98.8" r="2.75" fill="#fff" stroke="#000" stroke-width="1.85"/>
<circle cx="106.0" cy="104.5" r="2.75" fill="#fff" stroke="#000" stroke-width="1.85"/>
<circle cx="146.4" cy="101.3" r="2.75" fill="#fff" stroke="#000" stroke-width="1.85"/>
<circle cx="282.2" cy="101.6" r="2.75" fill="#fff" stroke="#000" stroke-width="1.85"/>
<circle cx="134.7" cy="107.5" r="2.75" fill="#fff" stroke="#000" stroke-width="1.85"/>
<circle cx="266.0" cy="107.5" r="2.75" fill="#fff" stroke="#000" stroke-width="1.85"/>
<circle cx="152.2" cy="113.3" r="2.75" fill="#fff" stroke="#000" stroke-width="1.85"/>
<circle cx="285.7" cy="113.3" r="2.75" fill="#fff" stroke="#000" stroke-width="1.85"/>
<circle cx="110.2" cy="125.5" r="2.75" fill="#fff" stroke="#000" stroke-width="1.85"/>
<circle cx="245.0" cy="121.3" r="2.75" fill="#fff" stroke="#000" stroke-width="1.85"/>
<circle cx="126.4" cy="128.3" r="2.75" fill="#fff" stroke="#000" stroke-width="1.85"/>
<circle cx="257.7" cy="126.1" r="2.75" fill="#fff" stroke="#000" stroke-width="1.85"/>
<circle cx="137.4" cy="135.0" r="2.75" fill="#fff" stroke="#000" stroke-width="1.85"/>
<circle cx="269.0" cy="131.6" r="2.75" fill="#fff" stroke="#000" stroke-width="1.85"/>
<circle cx="122.4" cy="136.3" r="2.75" fill="#fff" stroke="#000" stroke-width="1.85"/>
<circle cx="266.5" cy="136.6" r="2.75" fill="#fff" stroke="#000" stroke-width="1.85"/>
<circle cx="120.7" cy="143.0" r="2.75" fill="#fff" stroke="#000" stroke-width="1.85"/>
<circle cx="261.0" cy="138.0" r="2.75" fill="#fff" stroke="#000" stroke-width="1.85"/>
<circle cx="114.4" cy="146.6" r="2.75" fill="#fff" stroke="#000" stroke-width="1.85"/>
<circle cx="254.0" cy="143.8" r="2.75" fill="#fff" stroke="#000" stroke-width="1.85"/>
<circle cx="133.5" cy="156.1" r="2.75" fill="#fff" stroke="#000" stroke-width="1.85"/>
<circle cx="263.0" cy="155.3" r="2.75" fill="#fff" stroke="#000" stroke-width="1.85"/>
<circle cx="119.9" cy="158.6" r="2.75" fill="#fff" stroke="#000" stroke-width="1.85"/>
<circle cx="281.0" cy="158.3" r="2.75" fill="#fff" stroke="#000" stroke-width="1.85"/>
<circle cx="113.5" cy="167.8" r="2.75" fill="#fff" stroke="#000" stroke-width="1.85"/>
<circle cx="266.0" cy="163.8" r="2.75" fill="#fff" stroke="#000" stroke-width="1.85"/>
</g>
<line x1="455" y1="4.9" x2="455" y2="666.5" stroke="#7f7f7f" stroke-width="2.2" stroke-dasharray="5.8 2.6"/>
<text x="197.3" y="18.5" fill="#000" font-size="22.8" font-weight="normal" text-anchor="middle" font-family="'Liberation Sans', sans-serif">Initial Correspondences</text>
<text x="686.9" y="18.5" fill="#000" font-size="22.8" font-weight="normal" text-anchor="middle" font-family="'Liberation Sans', sans-serif">Initial Correspondences</text>
<rect x="92" y="229.8" width="223.6" height="52.6" rx="8" fill="#000" opacity="0.36" filter="url(#bshadow)"/>
<rect x="90" y="226.9" width="223.6" height="52.6" rx="8.5" fill="#dce1f6" stroke="#3a3e46" stroke-width="1.5"/>
<text x="201.7" y="261.1" fill="#000" font-size="22.8" font-weight="normal" text-anchor="middle" font-family="'Liberation Sans', sans-serif">Outlier Removal</text>
<rect x="581.5" y="229.8" width="223.6" height="52.6" rx="8" fill="#000" opacity="0.36" filter="url(#bshadow)"/>
<rect x="579.5" y="226.9" width="223.6" height="52.6" rx="8.5" fill="#d6f3f3" stroke="#3a3e46" stroke-width="1.5"/>
<text x="691.1" y="261.1" fill="#000" font-size="22.8" font-weight="normal" text-anchor="middle" font-family="'Liberation Sans', sans-serif">Inlier Regeneration</text>
<line x1="201.8" y1="183.3" x2="201.8" y2="222.3" stroke="#000" stroke-width="2"/><path d="M197.0,217.10000000000002 L201.8,226.3 L206.60000000000002,217.10000000000002 L201.8,221.20000000000002 Z" fill="#000"/>
<line x1="199.9" y1="280" x2="199.9" y2="319.3" stroke="#000" stroke-width="2"/><path d="M195.1,314.1 L199.9,323.3 L204.70000000000002,314.1 L199.9,318.2 Z" fill="#000"/>
<line x1="690.7" y1="183.3" x2="690.7" y2="222.3" stroke="#000" stroke-width="2"/><path d="M685.9000000000001,217.10000000000002 L690.7,226.3 L695.5,217.10000000000002 L690.7,221.20000000000002 Z" fill="#000"/>
<line x1="690.4" y1="280" x2="690.4" y2="319.3" stroke="#000" stroke-width="2"/><path d="M685.6,314.1 L690.4,323.3 L695.1999999999999,314.1 L690.4,318.2 Z" fill="#000"/>
<text x="235" y="314.4" fill="#000" font-size="22.8" font-weight="normal" text-anchor="start" font-family="'Liberation Sans', sans-serif">Prune</text>
<text x="734.8" y="314.4" fill="#1eb254" font-size="22.8" font-weight="normal" text-anchor="start" font-family="'Liberation Sans', sans-serif">Regenerate</text>
<text x="132.7" y="527.1" fill="#ff1a1a" font-size="22.8" font-weight="normal" text-anchor="start" font-family="'Liberation Sans', sans-serif">Too few inliers</text>
<line x1="202.3" y1="540" x2="202.3" y2="579.3" stroke="#000" stroke-width="2"/><path d="M197.5,574.0999999999999 L202.3,583.3 L207.10000000000002,574.0999999999999 L202.3,578.1999999999999 Z" fill="#000"/>
<path d="M191.45,544.55 L212.95,566.05 M212.95,544.55 L191.45,566.05" stroke="#ff1a1a" stroke-width="9.5" fill="none"/>
<text x="230.5" y="565" fill="#ff1a1a" font-size="22.8" font-weight="normal" text-anchor="start" font-family="'Liberation Sans', sans-serif">Fail</text>
<text x="148.7" y="618.5" fill="#000" font-size="22.8" font-weight="normal" text-anchor="start" font-family="'Liberation Sans', sans-serif">6DoF Pose</text>
<text x="203.2" y="670.5" fill="#000" font-size="24.8" font-weight="bold" text-anchor="middle" font-family="'Liberation Sans', sans-serif">(a) Existing Methods</text>
<text x="635" y="527.5" fill="#1eb254" font-size="22.8" font-weight="normal" text-anchor="start" font-family="'Liberation Sans', sans-serif">More inliers</text>
<line x1="691" y1="543.5" x2="691" y2="582.5" stroke="#000" stroke-width="2"/><path d="M686.2,577.3 L691,586.5 L695.8,577.3 L691,581.4 Z" fill="#000"/>
<path d="M700.3,563.9 L703.9,561.5 L709.2,572.6 L713.5,550.2 L714.7,550.2 L709.9,576 L708.5,576 L702.6,563.7 L700.9,564.8 Z" fill="#1eb254"/>
<text x="727.3" y="569.8" fill="#1eb254" font-size="22.8" font-weight="normal" text-anchor="start" font-family="'Liberation Sans', sans-serif">Success</text>
<text x="633.4" y="620.4" fill="#000" font-size="23" font-weight="normal" text-anchor="start" font-family="'Liberation Sans', sans-serif">6DoF Pose</text>
<text x="691" y="670.5" fill="#000" font-size="24.8" font-weight="bold" text-anchor="middle" font-family="'Liberation Sans', sans-serif">(b) Our Method</text>
</svg></body></html>
